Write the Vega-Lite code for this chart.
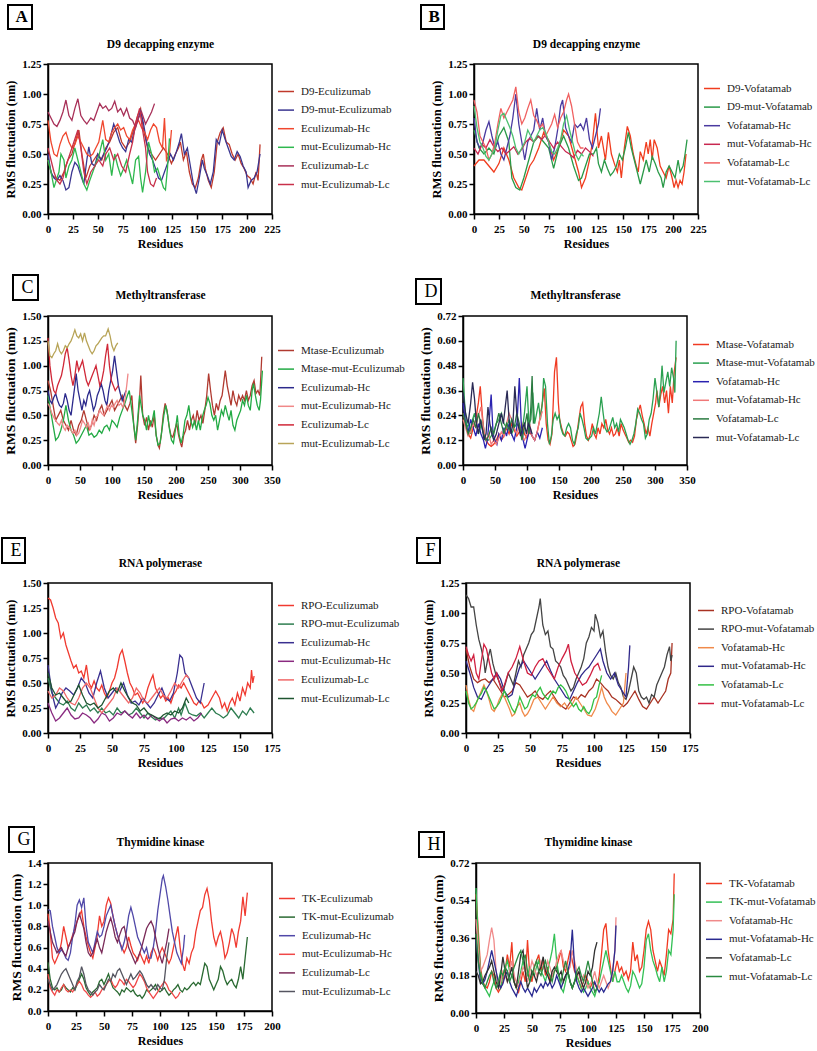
{
"$schema":"https://vega.github.io/schema/vega-lite/v6.json",
"padding":{"left":0,"top":3,"right":0,"bottom":0},
"background":"white",
"datasets":{
"names":[
{"k":"A0","n":"D9-Eculizumab"},{"k":"A1","n":"D9-mut-Eculizumab"},{"k":"A2","n":"Eculizumab-Hc"},{"k":"A3","n":"mut-Eculizumab-Hc"},{"k":"A4","n":"Eculizumab-Lc"},{"k":"A5","n":"mut-Eculizumab-Lc"},
{"k":"B0","n":"D9-Vofatamab"},{"k":"B1","n":"D9-mut-Vofatamab"},{"k":"B2","n":"Vofatamab-Hc"},{"k":"B3","n":"mut-Vofatamab-Hc"},{"k":"B4","n":"Vofatamab-Lc"},{"k":"B5","n":"mut-Vofatamab-Lc"},
{"k":"C0","n":"Mtase-Eculizumab"},{"k":"C1","n":"Mtase-mut-Eculizumab"},{"k":"C2","n":"Eculizumab-Hc"},{"k":"C3","n":"mut-Eculizumab-Hc"},{"k":"C4","n":"Eculizumab-Lc"},{"k":"C5","n":"mut-Eculizumab-Lc"},
{"k":"D0","n":"Mtase-Vofatamab"},{"k":"D1","n":"Mtase-mut-Vofatamab"},{"k":"D2","n":"Vofatamab-Hc"},{"k":"D3","n":"mut-Vofatamab-Hc"},{"k":"D4","n":"Vofatamab-Lc"},{"k":"D5","n":"mut-Vofatamab-Lc"},
{"k":"E0","n":"RPO-Eculizumab"},{"k":"E1","n":"RPO-mut-Eculizumab"},{"k":"E2","n":"Eculizumab-Hc"},{"k":"E3","n":"mut-Eculizumab-Hc"},{"k":"E4","n":"Eculizumab-Lc"},{"k":"E5","n":"mut-Eculizumab-Lc"},
{"k":"F0","n":"RPO-Vofatamab"},{"k":"F1","n":"RPO-mut-Vofatamab"},{"k":"F2","n":"Vofatamab-Hc"},{"k":"F3","n":"mut-Vofatamab-Hc"},{"k":"F4","n":"Vofatamab-Lc"},{"k":"F5","n":"mut-Vofatamab-Lc"},
{"k":"G0","n":"TK-Eculizumab"},{"k":"G1","n":"TK-mut-Eculizumab"},{"k":"G2","n":"Eculizumab-Hc"},{"k":"G3","n":"mut-Eculizumab-Hc"},{"k":"G4","n":"Eculizumab-Lc"},{"k":"G5","n":"mut-Eculizumab-Lc"},
{"k":"H0","n":"TK-Vofatamab"},{"k":"H1","n":"TK-mut-Vofatamab"},{"k":"H2","n":"Vofatamab-Hc"},{"k":"H3","n":"mut-Vofatamab-Hc"},{"k":"H4","n":"Vofatamab-Lc"},{"k":"H5","n":"mut-Vofatamab-Lc"}
],
"rms":[
{"k":"A0","x":0,"y":0.45},{"k":"A0","x":4,"y":0.32},{"k":"A0","x":8,"y":0.3},{"k":"A0","x":12,"y":0.28},{"k":"A0","x":16,"y":0.35},{"k":"A0","x":20,"y":0.45},{"k":"A0","x":24,"y":0.5},{"k":"A0","x":28,"y":0.62},{"k":"A0","x":31,"y":0.7},{"k":"A0","x":34,"y":0.5},{"k":"A0","x":38,"y":0.3},{"k":"A0","x":42,"y":0.4},{"k":"A0","x":46,"y":0.45},{"k":"A0","x":50,"y":0.5},{"k":"A0","x":54,"y":0.45},{"k":"A0","x":58,"y":0.55},{"k":"A0","x":62,"y":0.6},{"k":"A0","x":66,"y":0.68},{"k":"A0","x":70,"y":0.72},{"k":"A0","x":74,"y":0.6},{"k":"A0","x":78,"y":0.55},{"k":"A0","x":82,"y":0.6},{"k":"A0","x":86,"y":0.7},{"k":"A0","x":90,"y":0.82},{"k":"A0","x":93,"y":0.88},{"k":"A0","x":96,"y":0.7},{"k":"A0","x":100,"y":0.55},{"k":"A0","x":104,"y":0.5},{"k":"A0","x":108,"y":0.45},{"k":"A0","x":112,"y":0.5},{"k":"A0","x":116,"y":0.55},{"k":"A0","x":120,"y":0.5},{"k":"A0","x":124,"y":0.42},{"k":"A0","x":128,"y":0.5},{"k":"A0","x":131,"y":0.55},{"k":"A0","x":133,"y":0.6},{"k":"A0","x":136,"y":0.45},{"k":"A0","x":139,"y":0.52},{"k":"A0","x":142,"y":0.35},{"k":"A0","x":145,"y":0.25},{"k":"A0","x":148,"y":0.22},{"k":"A0","x":151,"y":0.3},{"k":"A0","x":154,"y":0.45},{"k":"A0","x":156,"y":0.5},{"k":"A0","x":158,"y":0.38},{"k":"A0","x":161,"y":0.28},{"k":"A0","x":164,"y":0.22},{"k":"A0","x":167,"y":0.35},{"k":"A0","x":170,"y":0.6},{"k":"A0","x":173,"y":0.68},{"k":"A0","x":176,"y":0.72},{"k":"A0","x":179,"y":0.6},{"k":"A0","x":182,"y":0.58},{"k":"A0","x":185,"y":0.5},{"k":"A0","x":188,"y":0.45},{"k":"A0","x":191,"y":0.5},{"k":"A0","x":194,"y":0.42},{"k":"A0","x":197,"y":0.38},{"k":"A0","x":200,"y":0.32},{"k":"A0","x":203,"y":0.3},{"k":"A0","x":206,"y":0.25},{"k":"A0","x":209,"y":0.35},{"k":"A0","x":211,"y":0.28},{"k":"A0","x":213,"y":0.58},
{"k":"A1","x":0,"y":0.5},{"k":"A1","x":3,"y":0.35},{"k":"A1","x":6,"y":0.3},{"k":"A1","x":9,"y":0.28},{"k":"A1","x":12,"y":0.32},{"k":"A1","x":15,"y":0.28},{"k":"A1","x":18,"y":0.2},{"k":"A1","x":21,"y":0.22},{"k":"A1","x":24,"y":0.35},{"k":"A1","x":27,"y":0.43},{"k":"A1","x":30,"y":0.4},{"k":"A1","x":33,"y":0.32},{"k":"A1","x":36,"y":0.25},{"k":"A1","x":39,"y":0.45},{"k":"A1","x":41,"y":0.56},{"k":"A1","x":44,"y":0.42},{"k":"A1","x":47,"y":0.4},{"k":"A1","x":50,"y":0.5},{"k":"A1","x":53,"y":0.45},{"k":"A1","x":56,"y":0.5},{"k":"A1","x":59,"y":0.55},{"k":"A1","x":62,"y":0.62},{"k":"A1","x":66,"y":0.75},{"k":"A1","x":69,"y":0.68},{"k":"A1","x":72,"y":0.6},{"k":"A1","x":75,"y":0.55},{"k":"A1","x":78,"y":0.52},{"k":"A1","x":81,"y":0.62},{"k":"A1","x":84,"y":0.6},{"k":"A1","x":87,"y":0.7},{"k":"A1","x":90,"y":0.78},{"k":"A1","x":93,"y":0.86},{"k":"A1","x":96,"y":0.75},{"k":"A1","x":99,"y":0.6},{"k":"A1","x":102,"y":0.5},{"k":"A1","x":105,"y":0.45},{"k":"A1","x":108,"y":0.38},{"k":"A1","x":111,"y":0.3},{"k":"A1","x":114,"y":0.28},{"k":"A1","x":117,"y":0.35},{"k":"A1","x":120,"y":0.42},{"k":"A1","x":123,"y":0.5},{"k":"A1","x":126,"y":0.45},{"k":"A1","x":129,"y":0.52},{"k":"A1","x":132,"y":0.6},{"k":"A1","x":134,"y":0.67},{"k":"A1","x":137,"y":0.5},{"k":"A1","x":140,"y":0.55},{"k":"A1","x":143,"y":0.4},{"k":"A1","x":146,"y":0.25},{"k":"A1","x":149,"y":0.17},{"k":"A1","x":152,"y":0.3},{"k":"A1","x":155,"y":0.45},{"k":"A1","x":157,"y":0.38},{"k":"A1","x":160,"y":0.32},{"k":"A1","x":163,"y":0.25},{"k":"A1","x":166,"y":0.35},{"k":"A1","x":169,"y":0.62},{"k":"A1","x":172,"y":0.58},{"k":"A1","x":175,"y":0.7},{"k":"A1","x":178,"y":0.62},{"k":"A1","x":181,"y":0.55},{"k":"A1","x":184,"y":0.48},{"k":"A1","x":187,"y":0.45},{"k":"A1","x":190,"y":0.52},{"k":"A1","x":193,"y":0.48},{"k":"A1","x":196,"y":0.4},{"k":"A1","x":199,"y":0.35},{"k":"A1","x":201,"y":0.22},{"k":"A1","x":204,"y":0.28},{"k":"A1","x":207,"y":0.3},{"k":"A1","x":210,"y":0.35},{"k":"A1","x":213,"y":0.5},
{"k":"A2","x":0,"y":0.78},{"k":"A2","x":3,"y":0.6},{"k":"A2","x":6,"y":0.5},{"k":"A2","x":9,"y":0.48},{"k":"A2","x":12,"y":0.58},{"k":"A2","x":15,"y":0.65},{"k":"A2","x":18,"y":0.68},{"k":"A2","x":21,"y":0.6},{"k":"A2","x":24,"y":0.55},{"k":"A2","x":27,"y":0.58},{"k":"A2","x":30,"y":0.65},{"k":"A2","x":33,"y":0.6},{"k":"A2","x":36,"y":0.55},{"k":"A2","x":39,"y":0.5},{"k":"A2","x":42,"y":0.48},{"k":"A2","x":45,"y":0.5},{"k":"A2","x":48,"y":0.55},{"k":"A2","x":51,"y":0.6},{"k":"A2","x":55,"y":0.78},{"k":"A2","x":58,"y":0.62},{"k":"A2","x":61,"y":0.6},{"k":"A2","x":64,"y":0.68},{"k":"A2","x":67,"y":0.72},{"k":"A2","x":70,"y":0.75},{"k":"A2","x":73,"y":0.7},{"k":"A2","x":76,"y":0.72},{"k":"A2","x":79,"y":0.65},{"k":"A2","x":82,"y":0.62},{"k":"A2","x":85,"y":0.7},{"k":"A2","x":88,"y":0.75},{"k":"A2","x":91,"y":0.78},{"k":"A2","x":94,"y":0.72},{"k":"A2","x":97,"y":0.68},{"k":"A2","x":100,"y":0.62},{"k":"A2","x":103,"y":0.7},{"k":"A2","x":106,"y":0.75},{"k":"A2","x":109,"y":0.72},{"k":"A2","x":112,"y":0.6},{"k":"A2","x":115,"y":0.55},{"k":"A2","x":117,"y":0.8},{"k":"A2","x":119,"y":0.45},{"k":"A2","x":122,"y":0.5},{"k":"A2","x":124,"y":0.7},
{"k":"A3","x":0,"y":0.45},{"k":"A3","x":3,"y":0.35},{"k":"A3","x":6,"y":0.22},{"k":"A3","x":9,"y":0.3},{"k":"A3","x":11,"y":0.35},{"k":"A3","x":13,"y":0.5},{"k":"A3","x":16,"y":0.45},{"k":"A3","x":18,"y":0.3},{"k":"A3","x":21,"y":0.4},{"k":"A3","x":24,"y":0.45},{"k":"A3","x":27,"y":0.55},{"k":"A3","x":30,"y":0.45},{"k":"A3","x":33,"y":0.35},{"k":"A3","x":36,"y":0.25},{"k":"A3","x":39,"y":0.2},{"k":"A3","x":42,"y":0.28},{"k":"A3","x":45,"y":0.35},{"k":"A3","x":48,"y":0.42},{"k":"A3","x":51,"y":0.48},{"k":"A3","x":55,"y":0.62},{"k":"A3","x":58,"y":0.45},{"k":"A3","x":61,"y":0.5},{"k":"A3","x":64,"y":0.32},{"k":"A3","x":67,"y":0.5},{"k":"A3","x":70,"y":0.4},{"k":"A3","x":73,"y":0.32},{"k":"A3","x":76,"y":0.38},{"k":"A3","x":79,"y":0.45},{"k":"A3","x":82,"y":0.35},{"k":"A3","x":85,"y":0.25},{"k":"A3","x":88,"y":0.45},{"k":"A3","x":91,"y":0.48},{"k":"A3","x":93,"y":0.3},{"k":"A3","x":95,"y":0.18},{"k":"A3","x":98,"y":0.35},{"k":"A3","x":101,"y":0.6},{"k":"A3","x":104,"y":0.5},{"k":"A3","x":107,"y":0.35},{"k":"A3","x":110,"y":0.38},{"k":"A3","x":113,"y":0.3},{"k":"A3","x":116,"y":0.22},{"k":"A3","x":118,"y":0.2},{"k":"A3","x":120,"y":0.38},{"k":"A3","x":122,"y":0.63},
{"k":"A4","x":0,"y":0.85},{"k":"A4","x":3,"y":0.8},{"k":"A4","x":6,"y":0.75},{"k":"A4","x":9,"y":0.73},{"k":"A4","x":12,"y":0.78},{"k":"A4","x":15,"y":0.85},{"k":"A4","x":18,"y":0.95},{"k":"A4","x":21,"y":0.82},{"k":"A4","x":24,"y":0.78},{"k":"A4","x":27,"y":0.88},{"k":"A4","x":30,"y":0.96},{"k":"A4","x":33,"y":0.82},{"k":"A4","x":36,"y":0.78},{"k":"A4","x":39,"y":0.75},{"k":"A4","x":43,"y":0.8},{"k":"A4","x":46,"y":0.78},{"k":"A4","x":49,"y":0.85},{"k":"A4","x":52,"y":0.92},{"k":"A4","x":55,"y":0.88},{"k":"A4","x":58,"y":0.9},{"k":"A4","x":61,"y":0.86},{"k":"A4","x":64,"y":0.88},{"k":"A4","x":67,"y":0.94},{"k":"A4","x":70,"y":0.85},{"k":"A4","x":73,"y":0.88},{"k":"A4","x":76,"y":0.82},{"k":"A4","x":79,"y":0.88},{"k":"A4","x":82,"y":0.8},{"k":"A4","x":85,"y":0.78},{"k":"A4","x":88,"y":0.72},{"k":"A4","x":91,"y":0.8},{"k":"A4","x":94,"y":0.85},{"k":"A4","x":98,"y":0.75},{"k":"A4","x":101,"y":0.8},{"k":"A4","x":104,"y":0.85},{"k":"A4","x":107,"y":0.92},
{"k":"A5","x":0,"y":0.55},{"k":"A5","x":3,"y":0.45},{"k":"A5","x":6,"y":0.35},{"k":"A5","x":9,"y":0.28},{"k":"A5","x":12,"y":0.25},{"k":"A5","x":15,"y":0.3},{"k":"A5","x":18,"y":0.4},{"k":"A5","x":22,"y":0.5},{"k":"A5","x":26,"y":0.6},{"k":"A5","x":30,"y":0.7},{"k":"A5","x":33,"y":0.55},{"k":"A5","x":36,"y":0.35},{"k":"A5","x":39,"y":0.25},{"k":"A5","x":43,"y":0.35},{"k":"A5","x":47,"y":0.4},{"k":"A5","x":51,"y":0.45},{"k":"A5","x":55,"y":0.4},{"k":"A5","x":58,"y":0.5},{"k":"A5","x":62,"y":0.55},{"k":"A5","x":66,"y":0.45},{"k":"A5","x":70,"y":0.5},{"k":"A5","x":74,"y":0.4},{"k":"A5","x":78,"y":0.35},{"k":"A5","x":82,"y":0.5},{"k":"A5","x":85,"y":0.6},{"k":"A5","x":88,"y":0.75},{"k":"A5","x":92,"y":0.88},{"k":"A5","x":95,"y":0.7},{"k":"A5","x":98,"y":0.55},{"k":"A5","x":100,"y":0.35},{"k":"A5","x":103,"y":0.25},{"k":"A5","x":106,"y":0.23},{"k":"A5","x":109,"y":0.3},
{"k":"B0","x":0,"y":0.4},{"k":"B0","x":5,"y":0.45},{"k":"B0","x":10,"y":0.45},{"k":"B0","x":15,"y":0.4},{"k":"B0","x":20,"y":0.35},{"k":"B0","x":25,"y":0.42},{"k":"B0","x":30,"y":0.55},{"k":"B0","x":35,"y":0.45},{"k":"B0","x":40,"y":0.3},{"k":"B0","x":45,"y":0.22},{"k":"B0","x":48,"y":0.2},{"k":"B0","x":52,"y":0.3},{"k":"B0","x":56,"y":0.4},{"k":"B0","x":60,"y":0.45},{"k":"B0","x":65,"y":0.55},{"k":"B0","x":70,"y":0.68},{"k":"B0","x":75,"y":0.6},{"k":"B0","x":80,"y":0.45},{"k":"B0","x":85,"y":0.55},{"k":"B0","x":90,"y":0.7},{"k":"B0","x":95,"y":0.65},{"k":"B0","x":100,"y":0.5},{"k":"B0","x":105,"y":0.35},{"k":"B0","x":108,"y":0.22},{"k":"B0","x":112,"y":0.3},{"k":"B0","x":116,"y":0.45},{"k":"B0","x":119,"y":0.6},{"k":"B0","x":122,"y":0.84},{"k":"B0","x":125,"y":0.55},{"k":"B0","x":128,"y":0.65},{"k":"B0","x":132,"y":0.45},{"k":"B0","x":135,"y":0.68},{"k":"B0","x":138,"y":0.5},{"k":"B0","x":141,"y":0.42},{"k":"B0","x":144,"y":0.35},{"k":"B0","x":146,"y":0.45},{"k":"B0","x":148,"y":0.3},{"k":"B0","x":151,"y":0.55},{"k":"B0","x":154,"y":0.73},{"k":"B0","x":157,"y":0.65},{"k":"B0","x":160,"y":0.5},{"k":"B0","x":163,"y":0.4},{"k":"B0","x":165,"y":0.35},{"k":"B0","x":167,"y":0.52},{"k":"B0","x":170,"y":0.45},{"k":"B0","x":173,"y":0.6},{"k":"B0","x":175,"y":0.5},{"k":"B0","x":177,"y":0.62},{"k":"B0","x":179,"y":0.45},{"k":"B0","x":181,"y":0.62},{"k":"B0","x":184,"y":0.55},{"k":"B0","x":187,"y":0.4},{"k":"B0","x":190,"y":0.35},{"k":"B0","x":193,"y":0.3},{"k":"B0","x":196,"y":0.4},{"k":"B0","x":199,"y":0.3},{"k":"B0","x":201,"y":0.22},{"k":"B0","x":203,"y":0.28},{"k":"B0","x":205,"y":0.22},{"k":"B0","x":207,"y":0.28},{"k":"B0","x":209,"y":0.25},{"k":"B0","x":211,"y":0.35},{"k":"B0","x":213,"y":0.5},
{"k":"B1","x":0,"y":0.7},{"k":"B1","x":5,"y":0.55},{"k":"B1","x":10,"y":0.5},{"k":"B1","x":15,"y":0.55},{"k":"B1","x":20,"y":0.5},{"k":"B1","x":25,"y":0.65},{"k":"B1","x":30,"y":0.72},{"k":"B1","x":35,"y":0.6},{"k":"B1","x":38,"y":0.3},{"k":"B1","x":42,"y":0.22},{"k":"B1","x":46,"y":0.2},{"k":"B1","x":50,"y":0.3},{"k":"B1","x":55,"y":0.45},{"k":"B1","x":60,"y":0.6},{"k":"B1","x":65,"y":0.65},{"k":"B1","x":70,"y":0.6},{"k":"B1","x":75,"y":0.55},{"k":"B1","x":80,"y":0.38},{"k":"B1","x":85,"y":0.55},{"k":"B1","x":90,"y":0.65},{"k":"B1","x":95,"y":0.55},{"k":"B1","x":100,"y":0.4},{"k":"B1","x":105,"y":0.28},{"k":"B1","x":108,"y":0.3},{"k":"B1","x":112,"y":0.4},{"k":"B1","x":116,"y":0.5},{"k":"B1","x":120,"y":0.5},{"k":"B1","x":123,"y":0.55},{"k":"B1","x":125,"y":0.42},{"k":"B1","x":128,"y":0.35},{"k":"B1","x":131,"y":0.45},{"k":"B1","x":134,"y":0.38},{"k":"B1","x":137,"y":0.32},{"k":"B1","x":140,"y":0.35},{"k":"B1","x":143,"y":0.4},{"k":"B1","x":146,"y":0.5},{"k":"B1","x":149,"y":0.45},{"k":"B1","x":152,"y":0.55},{"k":"B1","x":155,"y":0.68},{"k":"B1","x":158,"y":0.55},{"k":"B1","x":161,"y":0.45},{"k":"B1","x":164,"y":0.35},{"k":"B1","x":167,"y":0.25},{"k":"B1","x":170,"y":0.35},{"k":"B1","x":173,"y":0.45},{"k":"B1","x":176,"y":0.35},{"k":"B1","x":179,"y":0.48},{"k":"B1","x":182,"y":0.42},{"k":"B1","x":185,"y":0.35},{"k":"B1","x":188,"y":0.3},{"k":"B1","x":190,"y":0.22},{"k":"B1","x":193,"y":0.35},{"k":"B1","x":196,"y":0.4},{"k":"B1","x":199,"y":0.35},{"k":"B1","x":202,"y":0.3},{"k":"B1","x":205,"y":0.45},{"k":"B1","x":207,"y":0.35},{"k":"B1","x":210,"y":0.4},{"k":"B1","x":212,"y":0.5},{"k":"B1","x":214,"y":0.62},
{"k":"B2","x":0,"y":0.8},{"k":"B2","x":3,"y":0.6},{"k":"B2","x":6,"y":0.55},{"k":"B2","x":9,"y":0.6},{"k":"B2","x":12,"y":0.7},{"k":"B2","x":15,"y":0.77},{"k":"B2","x":18,"y":0.65},{"k":"B2","x":21,"y":0.55},{"k":"B2","x":24,"y":0.6},{"k":"B2","x":27,"y":0.5},{"k":"B2","x":30,"y":0.45},{"k":"B2","x":33,"y":0.55},{"k":"B2","x":36,"y":0.65},{"k":"B2","x":39,"y":0.8},{"k":"B2","x":42,"y":1.0},{"k":"B2","x":45,"y":0.75},{"k":"B2","x":48,"y":0.6},{"k":"B2","x":51,"y":0.45},{"k":"B2","x":54,"y":0.6},{"k":"B2","x":57,"y":0.65},{"k":"B2","x":60,"y":0.7},{"k":"B2","x":63,"y":0.88},{"k":"B2","x":66,"y":0.7},{"k":"B2","x":69,"y":0.8},{"k":"B2","x":72,"y":0.65},{"k":"B2","x":75,"y":0.6},{"k":"B2","x":78,"y":0.45},{"k":"B2","x":81,"y":0.55},{"k":"B2","x":84,"y":0.7},{"k":"B2","x":87,"y":0.9},{"k":"B2","x":89,"y":0.95},{"k":"B2","x":92,"y":0.72},{"k":"B2","x":95,"y":0.65},{"k":"B2","x":98,"y":0.6},{"k":"B2","x":101,"y":0.75},{"k":"B2","x":104,"y":0.72},{"k":"B2","x":107,"y":0.75},{"k":"B2","x":110,"y":0.7},{"k":"B2","x":113,"y":0.8},{"k":"B2","x":116,"y":0.62},{"k":"B2","x":119,"y":0.55},{"k":"B2","x":122,"y":0.65},{"k":"B2","x":125,"y":0.75},{"k":"B2","x":127,"y":0.88},
{"k":"B3","x":0,"y":0.55},{"k":"B3","x":4,"y":0.5},{"k":"B3","x":8,"y":0.58},{"k":"B3","x":12,"y":0.55},{"k":"B3","x":16,"y":0.62},{"k":"B3","x":20,"y":0.56},{"k":"B3","x":24,"y":0.52},{"k":"B3","x":28,"y":0.55},{"k":"B3","x":32,"y":0.5},{"k":"B3","x":36,"y":0.53},{"k":"B3","x":40,"y":0.56},{"k":"B3","x":44,"y":0.5},{"k":"B3","x":48,"y":0.54},{"k":"B3","x":52,"y":0.6},{"k":"B3","x":56,"y":0.63},{"k":"B3","x":60,"y":0.6},{"k":"B3","x":64,"y":0.65},{"k":"B3","x":68,"y":0.62},{"k":"B3","x":72,"y":0.66},{"k":"B3","x":76,"y":0.6},{"k":"B3","x":80,"y":0.55},{"k":"B3","x":84,"y":0.6},{"k":"B3","x":88,"y":0.56},{"k":"B3","x":92,"y":0.52},{"k":"B3","x":96,"y":0.5},{"k":"B3","x":100,"y":0.47},{"k":"B3","x":104,"y":0.53},{"k":"B3","x":108,"y":0.5},{"k":"B3","x":112,"y":0.55},{"k":"B3","x":116,"y":0.52},{"k":"B3","x":120,"y":0.48},
{"k":"B4","x":0,"y":0.95},{"k":"B4","x":3,"y":0.85},{"k":"B4","x":6,"y":0.65},{"k":"B4","x":9,"y":0.6},{"k":"B4","x":12,"y":0.55},{"k":"B4","x":15,"y":0.45},{"k":"B4","x":18,"y":0.5},{"k":"B4","x":21,"y":0.6},{"k":"B4","x":24,"y":0.75},{"k":"B4","x":27,"y":0.88},{"k":"B4","x":30,"y":0.8},{"k":"B4","x":33,"y":0.85},{"k":"B4","x":36,"y":0.9},{"k":"B4","x":39,"y":0.95},{"k":"B4","x":42,"y":1.06},{"k":"B4","x":45,"y":0.85},{"k":"B4","x":48,"y":0.75},{"k":"B4","x":51,"y":0.8},{"k":"B4","x":54,"y":0.88},{"k":"B4","x":57,"y":0.95},{"k":"B4","x":60,"y":0.82},{"k":"B4","x":63,"y":0.78},{"k":"B4","x":66,"y":0.72},{"k":"B4","x":69,"y":0.75},{"k":"B4","x":72,"y":0.65},{"k":"B4","x":75,"y":0.7},{"k":"B4","x":78,"y":0.75},{"k":"B4","x":81,"y":0.83},{"k":"B4","x":84,"y":0.72},{"k":"B4","x":87,"y":0.8},{"k":"B4","x":90,"y":0.85},{"k":"B4","x":93,"y":0.95},{"k":"B4","x":95,"y":1.0},{"k":"B4","x":98,"y":0.9},{"k":"B4","x":101,"y":0.75},{"k":"B4","x":104,"y":0.6},{"k":"B4","x":107,"y":0.55},{"k":"B4","x":110,"y":0.55},
{"k":"B5","x":0,"y":0.9},{"k":"B5","x":3,"y":0.72},{"k":"B5","x":6,"y":0.6},{"k":"B5","x":9,"y":0.55},{"k":"B5","x":12,"y":0.48},{"k":"B5","x":15,"y":0.45},{"k":"B5","x":18,"y":0.5},{"k":"B5","x":21,"y":0.55},{"k":"B5","x":24,"y":0.7},{"k":"B5","x":27,"y":0.82},{"k":"B5","x":30,"y":0.84},{"k":"B5","x":33,"y":0.78},{"k":"B5","x":36,"y":0.72},{"k":"B5","x":39,"y":0.65},{"k":"B5","x":42,"y":0.55},{"k":"B5","x":45,"y":0.5},{"k":"B5","x":48,"y":0.55},{"k":"B5","x":51,"y":0.6},{"k":"B5","x":54,"y":0.7},{"k":"B5","x":57,"y":0.65},{"k":"B5","x":60,"y":0.6},{"k":"B5","x":63,"y":0.65},{"k":"B5","x":66,"y":0.7},{"k":"B5","x":69,"y":0.72},{"k":"B5","x":72,"y":0.68},{"k":"B5","x":75,"y":0.6},{"k":"B5","x":78,"y":0.52},{"k":"B5","x":81,"y":0.5},{"k":"B5","x":84,"y":0.55},{"k":"B5","x":87,"y":0.62},{"k":"B5","x":90,"y":0.75},{"k":"B5","x":93,"y":0.82},{"k":"B5","x":96,"y":0.7},{"k":"B5","x":99,"y":0.6},{"k":"B5","x":102,"y":0.5},{"k":"B5","x":105,"y":0.45},{"k":"B5","x":108,"y":0.5},{"k":"B5","x":110,"y":0.48},
{"k":"C0","x":0,"y":0.85},{"k":"C0","x":4,"y":0.75},{"k":"C0","x":8,"y":0.6},{"k":"C0","x":12,"y":0.45},{"k":"C0","x":16,"y":0.5},{"k":"C0","x":20,"y":0.55},{"k":"C0","x":24,"y":0.45},{"k":"C0","x":28,"y":0.4},{"k":"C0","x":32,"y":0.35},{"k":"C0","x":36,"y":0.45},{"k":"C0","x":40,"y":0.35},{"k":"C0","x":44,"y":0.3},{"k":"C0","x":48,"y":0.4},{"k":"C0","x":52,"y":0.45},{"k":"C0","x":56,"y":0.55},{"k":"C0","x":60,"y":0.45},{"k":"C0","x":64,"y":0.35},{"k":"C0","x":68,"y":0.4},{"k":"C0","x":72,"y":0.5},{"k":"C0","x":76,"y":0.45},{"k":"C0","x":80,"y":0.55},{"k":"C0","x":84,"y":0.6},{"k":"C0","x":88,"y":0.5},{"k":"C0","x":92,"y":0.55},{"k":"C0","x":96,"y":0.6},{"k":"C0","x":100,"y":0.65},{"k":"C0","x":104,"y":0.55},{"k":"C0","x":108,"y":0.6},{"k":"C0","x":112,"y":0.65},{"k":"C0","x":116,"y":0.7},{"k":"C0","x":120,"y":0.6},{"k":"C0","x":124,"y":0.55},{"k":"C0","x":128,"y":0.62},{"k":"C0","x":131,"y":0.7},{"k":"C0","x":134,"y":0.4},{"k":"C0","x":137,"y":0.22},{"k":"C0","x":140,"y":0.4},{"k":"C0","x":143,"y":0.65},{"k":"C0","x":145,"y":0.9},{"k":"C0","x":148,"y":0.5},{"k":"C0","x":151,"y":0.4},{"k":"C0","x":154,"y":0.48},{"k":"C0","x":157,"y":0.35},{"k":"C0","x":160,"y":0.45},{"k":"C0","x":163,"y":0.38},{"k":"C0","x":166,"y":0.5},{"k":"C0","x":169,"y":0.3},{"k":"C0","x":172,"y":0.2},{"k":"C0","x":174,"y":0.17},{"k":"C0","x":177,"y":0.3},{"k":"C0","x":180,"y":0.5},{"k":"C0","x":183,"y":0.62},{"k":"C0","x":186,"y":0.55},{"k":"C0","x":189,"y":0.4},{"k":"C0","x":192,"y":0.3},{"k":"C0","x":195,"y":0.28},{"k":"C0","x":198,"y":0.35},{"k":"C0","x":201,"y":0.42},{"k":"C0","x":204,"y":0.3},{"k":"C0","x":207,"y":0.22},{"k":"C0","x":209,"y":0.18},{"k":"C0","x":212,"y":0.3},{"k":"C0","x":215,"y":0.35},{"k":"C0","x":218,"y":0.45},{"k":"C0","x":221,"y":0.35},{"k":"C0","x":224,"y":0.45},{"k":"C0","x":227,"y":0.5},{"k":"C0","x":230,"y":0.4},{"k":"C0","x":233,"y":0.55},{"k":"C0","x":236,"y":0.45},{"k":"C0","x":239,"y":0.5},{"k":"C0","x":242,"y":0.42},{"k":"C0","x":245,"y":0.55},{"k":"C0","x":248,"y":0.7},{"k":"C0","x":251,"y":0.92},{"k":"C0","x":254,"y":0.75},{"k":"C0","x":257,"y":0.6},{"k":"C0","x":260,"y":0.5},{"k":"C0","x":263,"y":0.62},{"k":"C0","x":266,"y":0.55},{"k":"C0","x":269,"y":0.65},{"k":"C0","x":272,"y":0.7},{"k":"C0","x":275,"y":0.85},{"k":"C0","x":277,"y":0.95},{"k":"C0","x":280,"y":0.8},{"k":"C0","x":283,"y":0.7},{"k":"C0","x":286,"y":0.6},{"k":"C0","x":289,"y":0.75},{"k":"C0","x":292,"y":0.65},{"k":"C0","x":295,"y":0.6},{"k":"C0","x":298,"y":0.7},{"k":"C0","x":301,"y":0.65},{"k":"C0","x":304,"y":0.7},{"k":"C0","x":307,"y":0.65},{"k":"C0","x":310,"y":0.75},{"k":"C0","x":313,"y":0.65},{"k":"C0","x":316,"y":0.7},{"k":"C0","x":319,"y":0.8},{"k":"C0","x":322,"y":0.85},{"k":"C0","x":325,"y":0.72},{"k":"C0","x":328,"y":0.75},{"k":"C0","x":331,"y":0.7},{"k":"C0","x":334,"y":1.09},
{"k":"C1","x":0,"y":0.7},{"k":"C1","x":4,"y":0.55},{"k":"C1","x":8,"y":0.4},{"k":"C1","x":12,"y":0.25},{"k":"C1","x":16,"y":0.28},{"k":"C1","x":20,"y":0.35},{"k":"C1","x":24,"y":0.45},{"k":"C1","x":28,"y":0.6},{"k":"C1","x":32,"y":0.45},{"k":"C1","x":36,"y":0.35},{"k":"C1","x":40,"y":0.3},{"k":"C1","x":44,"y":0.22},{"k":"C1","x":48,"y":0.25},{"k":"C1","x":52,"y":0.3},{"k":"C1","x":56,"y":0.35},{"k":"C1","x":60,"y":0.4},{"k":"C1","x":64,"y":0.3},{"k":"C1","x":68,"y":0.32},{"k":"C1","x":72,"y":0.28},{"k":"C1","x":76,"y":0.3},{"k":"C1","x":80,"y":0.35},{"k":"C1","x":84,"y":0.32},{"k":"C1","x":88,"y":0.38},{"k":"C1","x":92,"y":0.4},{"k":"C1","x":96,"y":0.35},{"k":"C1","x":100,"y":0.45},{"k":"C1","x":104,"y":0.42},{"k":"C1","x":108,"y":0.38},{"k":"C1","x":112,"y":0.48},{"k":"C1","x":116,"y":0.55},{"k":"C1","x":120,"y":0.62},{"k":"C1","x":124,"y":0.7},{"k":"C1","x":127,"y":0.75},{"k":"C1","x":130,"y":0.6},{"k":"C1","x":134,"y":0.4},{"k":"C1","x":137,"y":0.25},{"k":"C1","x":140,"y":0.45},{"k":"C1","x":143,"y":0.7},{"k":"C1","x":145,"y":0.62},{"k":"C1","x":148,"y":0.5},{"k":"C1","x":151,"y":0.45},{"k":"C1","x":154,"y":0.35},{"k":"C1","x":157,"y":0.5},{"k":"C1","x":160,"y":0.4},{"k":"C1","x":163,"y":0.45},{"k":"C1","x":166,"y":0.55},{"k":"C1","x":169,"y":0.3},{"k":"C1","x":172,"y":0.2},{"k":"C1","x":175,"y":0.22},{"k":"C1","x":178,"y":0.35},{"k":"C1","x":181,"y":0.5},{"k":"C1","x":184,"y":0.6},{"k":"C1","x":187,"y":0.5},{"k":"C1","x":190,"y":0.35},{"k":"C1","x":193,"y":0.25},{"k":"C1","x":196,"y":0.22},{"k":"C1","x":199,"y":0.35},{"k":"C1","x":202,"y":0.5},{"k":"C1","x":205,"y":0.3},{"k":"C1","x":208,"y":0.22},{"k":"C1","x":211,"y":0.3},{"k":"C1","x":214,"y":0.45},{"k":"C1","x":217,"y":0.5},{"k":"C1","x":220,"y":0.6},{"k":"C1","x":223,"y":0.45},{"k":"C1","x":226,"y":0.38},{"k":"C1","x":229,"y":0.45},{"k":"C1","x":232,"y":0.35},{"k":"C1","x":235,"y":0.45},{"k":"C1","x":238,"y":0.35},{"k":"C1","x":241,"y":0.48},{"k":"C1","x":244,"y":0.55},{"k":"C1","x":247,"y":0.6},{"k":"C1","x":250,"y":0.68},{"k":"C1","x":253,"y":0.62},{"k":"C1","x":256,"y":0.5},{"k":"C1","x":259,"y":0.45},{"k":"C1","x":262,"y":0.5},{"k":"C1","x":265,"y":0.35},{"k":"C1","x":268,"y":0.45},{"k":"C1","x":271,"y":0.55},{"k":"C1","x":274,"y":0.5},{"k":"C1","x":277,"y":0.6},{"k":"C1","x":280,"y":0.52},{"k":"C1","x":283,"y":0.45},{"k":"C1","x":286,"y":0.55},{"k":"C1","x":289,"y":0.4},{"k":"C1","x":292,"y":0.35},{"k":"C1","x":295,"y":0.45},{"k":"C1","x":298,"y":0.5},{"k":"C1","x":301,"y":0.55},{"k":"C1","x":304,"y":0.65},{"k":"C1","x":307,"y":0.6},{"k":"C1","x":310,"y":0.7},{"k":"C1","x":313,"y":0.6},{"k":"C1","x":316,"y":0.55},{"k":"C1","x":319,"y":0.75},{"k":"C1","x":321,"y":0.82},{"k":"C1","x":324,"y":0.7},{"k":"C1","x":327,"y":0.6},{"k":"C1","x":330,"y":0.55},{"k":"C1","x":332,"y":0.65},{"k":"C1","x":335,"y":0.95},
{"k":"C2","x":0,"y":0.75},{"k":"C2","x":3,"y":0.65},{"k":"C2","x":6,"y":0.62},{"k":"C2","x":9,"y":0.68},{"k":"C2","x":12,"y":0.72},{"k":"C2","x":15,"y":0.65},{"k":"C2","x":18,"y":0.6},{"k":"C2","x":21,"y":0.58},{"k":"C2","x":24,"y":0.62},{"k":"C2","x":27,"y":0.72},{"k":"C2","x":30,"y":0.65},{"k":"C2","x":33,"y":0.55},{"k":"C2","x":36,"y":0.5},{"k":"C2","x":39,"y":0.65},{"k":"C2","x":42,"y":0.8},{"k":"C2","x":44,"y":0.92},{"k":"C2","x":47,"y":0.75},{"k":"C2","x":50,"y":0.65},{"k":"C2","x":53,"y":0.55},{"k":"C2","x":56,"y":0.65},{"k":"C2","x":59,"y":0.6},{"k":"C2","x":62,"y":0.7},{"k":"C2","x":65,"y":0.75},{"k":"C2","x":68,"y":0.65},{"k":"C2","x":71,"y":0.55},{"k":"C2","x":74,"y":0.6},{"k":"C2","x":77,"y":0.7},{"k":"C2","x":80,"y":0.75},{"k":"C2","x":83,"y":0.82},{"k":"C2","x":86,"y":0.75},{"k":"C2","x":89,"y":0.65},{"k":"C2","x":92,"y":0.6},{"k":"C2","x":95,"y":0.75},{"k":"C2","x":98,"y":0.85},{"k":"C2","x":101,"y":0.95},{"k":"C2","x":104,"y":1.1},{"k":"C2","x":107,"y":0.95},{"k":"C2","x":110,"y":0.8},{"k":"C2","x":113,"y":0.72},{"k":"C2","x":116,"y":0.65},{"k":"C2","x":119,"y":0.7},{"k":"C2","x":122,"y":0.75},
{"k":"C3","x":0,"y":0.62},{"k":"C3","x":3,"y":0.58},{"k":"C3","x":6,"y":0.52},{"k":"C3","x":9,"y":0.48},{"k":"C3","x":12,"y":0.45},{"k":"C3","x":15,"y":0.42},{"k":"C3","x":18,"y":0.4},{"k":"C3","x":21,"y":0.45},{"k":"C3","x":24,"y":0.38},{"k":"C3","x":27,"y":0.35},{"k":"C3","x":30,"y":0.4},{"k":"C3","x":33,"y":0.38},{"k":"C3","x":36,"y":0.35},{"k":"C3","x":39,"y":0.32},{"k":"C3","x":42,"y":0.35},{"k":"C3","x":45,"y":0.3},{"k":"C3","x":48,"y":0.32},{"k":"C3","x":51,"y":0.38},{"k":"C3","x":54,"y":0.45},{"k":"C3","x":57,"y":0.42},{"k":"C3","x":60,"y":0.38},{"k":"C3","x":63,"y":0.42},{"k":"C3","x":66,"y":0.35},{"k":"C3","x":69,"y":0.45},{"k":"C3","x":72,"y":0.4},{"k":"C3","x":75,"y":0.48},{"k":"C3","x":78,"y":0.5},{"k":"C3","x":81,"y":0.55},{"k":"C3","x":84,"y":0.52},{"k":"C3","x":87,"y":0.5},{"k":"C3","x":90,"y":0.55},{"k":"C3","x":93,"y":0.6},{"k":"C3","x":96,"y":0.55},{"k":"C3","x":99,"y":0.6},{"k":"C3","x":102,"y":0.58},{"k":"C3","x":105,"y":0.62},{"k":"C3","x":108,"y":0.65},{"k":"C3","x":111,"y":0.6},{"k":"C3","x":114,"y":0.62},{"k":"C3","x":117,"y":0.58},{"k":"C3","x":120,"y":0.65},{"k":"C3","x":123,"y":0.8},{"k":"C3","x":125,"y":0.92},
{"k":"C4","x":0,"y":1.28},{"k":"C4","x":3,"y":1.0},{"k":"C4","x":6,"y":0.85},{"k":"C4","x":9,"y":0.75},{"k":"C4","x":12,"y":0.72},{"k":"C4","x":15,"y":0.8},{"k":"C4","x":18,"y":0.85},{"k":"C4","x":21,"y":0.9},{"k":"C4","x":24,"y":1.0},{"k":"C4","x":27,"y":1.12},{"k":"C4","x":30,"y":1.18},{"k":"C4","x":33,"y":1.05},{"k":"C4","x":36,"y":0.9},{"k":"C4","x":39,"y":0.8},{"k":"C4","x":42,"y":0.9},{"k":"C4","x":45,"y":1.05},{"k":"C4","x":48,"y":0.95},{"k":"C4","x":51,"y":1.0},{"k":"C4","x":54,"y":1.05},{"k":"C4","x":57,"y":0.95},{"k":"C4","x":60,"y":0.85},{"k":"C4","x":63,"y":0.8},{"k":"C4","x":66,"y":0.85},{"k":"C4","x":69,"y":0.9},{"k":"C4","x":72,"y":0.95},{"k":"C4","x":75,"y":1.0},{"k":"C4","x":78,"y":0.9},{"k":"C4","x":81,"y":0.8},{"k":"C4","x":84,"y":0.85},{"k":"C4","x":87,"y":0.95},{"k":"C4","x":90,"y":1.1},{"k":"C4","x":93,"y":1.22},{"k":"C4","x":96,"y":1.0},{"k":"C4","x":99,"y":0.85},{"k":"C4","x":102,"y":0.8},{"k":"C4","x":105,"y":0.75},{"k":"C4","x":108,"y":0.78},{"k":"C4","x":110,"y":0.8},
{"k":"C5","x":0,"y":1.25},{"k":"C5","x":3,"y":1.1},{"k":"C5","x":6,"y":1.08},{"k":"C5","x":9,"y":1.12},{"k":"C5","x":12,"y":1.15},{"k":"C5","x":15,"y":1.22},{"k":"C5","x":18,"y":1.15},{"k":"C5","x":21,"y":1.12},{"k":"C5","x":24,"y":1.15},{"k":"C5","x":27,"y":1.2},{"k":"C5","x":30,"y":1.18},{"k":"C5","x":33,"y":1.22},{"k":"C5","x":36,"y":1.25},{"k":"C5","x":39,"y":1.3},{"k":"C5","x":42,"y":1.36},{"k":"C5","x":45,"y":1.3},{"k":"C5","x":48,"y":1.28},{"k":"C5","x":51,"y":1.32},{"k":"C5","x":54,"y":1.25},{"k":"C5","x":57,"y":1.33},{"k":"C5","x":60,"y":1.25},{"k":"C5","x":63,"y":1.2},{"k":"C5","x":66,"y":1.15},{"k":"C5","x":69,"y":1.12},{"k":"C5","x":72,"y":1.15},{"k":"C5","x":75,"y":1.2},{"k":"C5","x":78,"y":1.22},{"k":"C5","x":81,"y":1.25},{"k":"C5","x":84,"y":1.28},{"k":"C5","x":87,"y":1.3},{"k":"C5","x":90,"y":1.3},{"k":"C5","x":94,"y":1.37},{"k":"C5","x":97,"y":1.3},{"k":"C5","x":100,"y":1.2},{"k":"C5","x":103,"y":1.15},{"k":"C5","x":106,"y":1.2},{"k":"C5","x":109,"y":1.23},
{"k":"D0","x":0,"y":0.25},{"k":"D0","x":4,"y":0.2},{"k":"D0","x":8,"y":0.15},{"k":"D0","x":12,"y":0.13},{"k":"D0","x":16,"y":0.18},{"k":"D0","x":20,"y":0.22},{"k":"D0","x":24,"y":0.3},{"k":"D0","x":27,"y":0.38},{"k":"D0","x":30,"y":0.25},{"k":"D0","x":33,"y":0.15},{"k":"D0","x":36,"y":0.12},{"k":"D0","x":40,"y":0.1},{"k":"D0","x":44,"y":0.09},{"k":"D0","x":48,"y":0.1},{"k":"D0","x":52,"y":0.12},{"k":"D0","x":56,"y":0.15},{"k":"D0","x":60,"y":0.12},{"k":"D0","x":64,"y":0.14},{"k":"D0","x":68,"y":0.18},{"k":"D0","x":72,"y":0.15},{"k":"D0","x":76,"y":0.2},{"k":"D0","x":80,"y":0.17},{"k":"D0","x":84,"y":0.14},{"k":"D0","x":88,"y":0.16},{"k":"D0","x":92,"y":0.2},{"k":"D0","x":96,"y":0.15},{"k":"D0","x":100,"y":0.13},{"k":"D0","x":104,"y":0.16},{"k":"D0","x":108,"y":0.14},{"k":"D0","x":112,"y":0.12},{"k":"D0","x":116,"y":0.16},{"k":"D0","x":120,"y":0.22},{"k":"D0","x":124,"y":0.3},{"k":"D0","x":127,"y":0.37},{"k":"D0","x":130,"y":0.2},{"k":"D0","x":133,"y":0.12},{"k":"D0","x":136,"y":0.1},{"k":"D0","x":139,"y":0.15},{"k":"D0","x":141,"y":0.3},{"k":"D0","x":143,"y":0.45},{"k":"D0","x":146,"y":0.52},{"k":"D0","x":149,"y":0.3},{"k":"D0","x":151,"y":0.22},{"k":"D0","x":154,"y":0.18},{"k":"D0","x":157,"y":0.15},{"k":"D0","x":160,"y":0.14},{"k":"D0","x":163,"y":0.16},{"k":"D0","x":166,"y":0.15},{"k":"D0","x":169,"y":0.12},{"k":"D0","x":172,"y":0.09},{"k":"D0","x":175,"y":0.1},{"k":"D0","x":178,"y":0.15},{"k":"D0","x":181,"y":0.22},{"k":"D0","x":184,"y":0.28},{"k":"D0","x":187,"y":0.3},{"k":"D0","x":190,"y":0.2},{"k":"D0","x":193,"y":0.14},{"k":"D0","x":196,"y":0.12},{"k":"D0","x":199,"y":0.15},{"k":"D0","x":202,"y":0.2},{"k":"D0","x":205,"y":0.15},{"k":"D0","x":208,"y":0.13},{"k":"D0","x":211,"y":0.18},{"k":"D0","x":214,"y":0.15},{"k":"D0","x":217,"y":0.2},{"k":"D0","x":220,"y":0.18},{"k":"D0","x":223,"y":0.22},{"k":"D0","x":226,"y":0.17},{"k":"D0","x":229,"y":0.15},{"k":"D0","x":232,"y":0.18},{"k":"D0","x":235,"y":0.14},{"k":"D0","x":238,"y":0.15},{"k":"D0","x":241,"y":0.18},{"k":"D0","x":244,"y":0.14},{"k":"D0","x":247,"y":0.2},{"k":"D0","x":250,"y":0.17},{"k":"D0","x":253,"y":0.15},{"k":"D0","x":256,"y":0.13},{"k":"D0","x":259,"y":0.11},{"k":"D0","x":262,"y":0.12},{"k":"D0","x":265,"y":0.11},{"k":"D0","x":268,"y":0.14},{"k":"D0","x":271,"y":0.22},{"k":"D0","x":274,"y":0.26},{"k":"D0","x":277,"y":0.29},{"k":"D0","x":280,"y":0.24},{"k":"D0","x":283,"y":0.2},{"k":"D0","x":286,"y":0.15},{"k":"D0","x":289,"y":0.18},{"k":"D0","x":292,"y":0.14},{"k":"D0","x":295,"y":0.2},{"k":"D0","x":298,"y":0.25},{"k":"D0","x":301,"y":0.3},{"k":"D0","x":303,"y":0.36},{"k":"D0","x":306,"y":0.28},{"k":"D0","x":309,"y":0.34},{"k":"D0","x":312,"y":0.38},{"k":"D0","x":315,"y":0.3},{"k":"D0","x":318,"y":0.36},{"k":"D0","x":321,"y":0.25},{"k":"D0","x":324,"y":0.38},{"k":"D0","x":327,"y":0.3},{"k":"D0","x":330,"y":0.45},{"k":"D0","x":333,"y":0.52},
{"k":"D1","x":0,"y":0.42},{"k":"D1","x":3,"y":0.28},{"k":"D1","x":6,"y":0.18},{"k":"D1","x":9,"y":0.2},{"k":"D1","x":12,"y":0.15},{"k":"D1","x":15,"y":0.22},{"k":"D1","x":18,"y":0.25},{"k":"D1","x":21,"y":0.2},{"k":"D1","x":24,"y":0.15},{"k":"D1","x":27,"y":0.18},{"k":"D1","x":30,"y":0.22},{"k":"D1","x":33,"y":0.16},{"k":"D1","x":36,"y":0.12},{"k":"D1","x":40,"y":0.12},{"k":"D1","x":44,"y":0.14},{"k":"D1","x":48,"y":0.16},{"k":"D1","x":52,"y":0.2},{"k":"D1","x":56,"y":0.22},{"k":"D1","x":60,"y":0.25},{"k":"D1","x":64,"y":0.2},{"k":"D1","x":68,"y":0.18},{"k":"D1","x":72,"y":0.22},{"k":"D1","x":76,"y":0.15},{"k":"D1","x":80,"y":0.18},{"k":"D1","x":84,"y":0.2},{"k":"D1","x":88,"y":0.18},{"k":"D1","x":92,"y":0.15},{"k":"D1","x":96,"y":0.25},{"k":"D1","x":100,"y":0.38},{"k":"D1","x":103,"y":0.2},{"k":"D1","x":106,"y":0.22},{"k":"D1","x":109,"y":0.35},{"k":"D1","x":112,"y":0.2},{"k":"D1","x":115,"y":0.25},{"k":"D1","x":118,"y":0.3},{"k":"D1","x":121,"y":0.22},{"k":"D1","x":124,"y":0.3},{"k":"D1","x":126,"y":0.42},{"k":"D1","x":129,"y":0.38},{"k":"D1","x":132,"y":0.2},{"k":"D1","x":135,"y":0.1},{"k":"D1","x":138,"y":0.14},{"k":"D1","x":141,"y":0.22},{"k":"D1","x":144,"y":0.25},{"k":"D1","x":147,"y":0.22},{"k":"D1","x":150,"y":0.24},{"k":"D1","x":153,"y":0.18},{"k":"D1","x":156,"y":0.15},{"k":"D1","x":159,"y":0.14},{"k":"D1","x":162,"y":0.18},{"k":"D1","x":165,"y":0.2},{"k":"D1","x":168,"y":0.18},{"k":"D1","x":171,"y":0.12},{"k":"D1","x":174,"y":0.1},{"k":"D1","x":177,"y":0.15},{"k":"D1","x":180,"y":0.18},{"k":"D1","x":183,"y":0.25},{"k":"D1","x":186,"y":0.22},{"k":"D1","x":189,"y":0.18},{"k":"D1","x":192,"y":0.13},{"k":"D1","x":195,"y":0.12},{"k":"D1","x":198,"y":0.13},{"k":"D1","x":201,"y":0.14},{"k":"D1","x":204,"y":0.18},{"k":"D1","x":207,"y":0.15},{"k":"D1","x":210,"y":0.2},{"k":"D1","x":213,"y":0.25},{"k":"D1","x":216,"y":0.33},{"k":"D1","x":219,"y":0.25},{"k":"D1","x":222,"y":0.18},{"k":"D1","x":225,"y":0.16},{"k":"D1","x":228,"y":0.17},{"k":"D1","x":231,"y":0.2},{"k":"D1","x":234,"y":0.23},{"k":"D1","x":237,"y":0.18},{"k":"D1","x":240,"y":0.2},{"k":"D1","x":243,"y":0.16},{"k":"D1","x":246,"y":0.22},{"k":"D1","x":249,"y":0.2},{"k":"D1","x":252,"y":0.18},{"k":"D1","x":255,"y":0.15},{"k":"D1","x":258,"y":0.12},{"k":"D1","x":261,"y":0.1},{"k":"D1","x":264,"y":0.12},{"k":"D1","x":267,"y":0.15},{"k":"D1","x":270,"y":0.2},{"k":"D1","x":273,"y":0.27},{"k":"D1","x":276,"y":0.25},{"k":"D1","x":279,"y":0.22},{"k":"D1","x":282,"y":0.2},{"k":"D1","x":285,"y":0.13},{"k":"D1","x":288,"y":0.15},{"k":"D1","x":291,"y":0.22},{"k":"D1","x":294,"y":0.25},{"k":"D1","x":297,"y":0.32},{"k":"D1","x":300,"y":0.42},{"k":"D1","x":303,"y":0.35},{"k":"D1","x":306,"y":0.28},{"k":"D1","x":309,"y":0.38},{"k":"D1","x":311,"y":0.48},{"k":"D1","x":314,"y":0.35},{"k":"D1","x":317,"y":0.4},{"k":"D1","x":320,"y":0.45},{"k":"D1","x":323,"y":0.38},{"k":"D1","x":326,"y":0.47},{"k":"D1","x":329,"y":0.42},{"k":"D1","x":331,"y":0.35},{"k":"D1","x":333,"y":0.6},
{"k":"D2","x":0,"y":0.3},{"k":"D2","x":4,"y":0.2},{"k":"D2","x":8,"y":0.16},{"k":"D2","x":12,"y":0.22},{"k":"D2","x":16,"y":0.18},{"k":"D2","x":20,"y":0.14},{"k":"D2","x":24,"y":0.2},{"k":"D2","x":28,"y":0.15},{"k":"D2","x":32,"y":0.12},{"k":"D2","x":35,"y":0.08},{"k":"D2","x":38,"y":0.12},{"k":"D2","x":41,"y":0.22},{"k":"D2","x":44,"y":0.34},{"k":"D2","x":47,"y":0.15},{"k":"D2","x":50,"y":0.12},{"k":"D2","x":53,"y":0.1},{"k":"D2","x":56,"y":0.15},{"k":"D2","x":60,"y":0.12},{"k":"D2","x":64,"y":0.18},{"k":"D2","x":68,"y":0.14},{"k":"D2","x":72,"y":0.2},{"k":"D2","x":76,"y":0.15},{"k":"D2","x":80,"y":0.12},{"k":"D2","x":84,"y":0.18},{"k":"D2","x":88,"y":0.42},{"k":"D2","x":91,"y":0.2},{"k":"D2","x":94,"y":0.12},{"k":"D2","x":97,"y":0.08},{"k":"D2","x":100,"y":0.12},{"k":"D2","x":104,"y":0.18},{"k":"D2","x":108,"y":0.14},{"k":"D2","x":112,"y":0.12},{"k":"D2","x":116,"y":0.16},{"k":"D2","x":120,"y":0.13},{"k":"D2","x":124,"y":0.18},
{"k":"D3","x":0,"y":0.22},{"k":"D3","x":4,"y":0.18},{"k":"D3","x":8,"y":0.14},{"k":"D3","x":12,"y":0.16},{"k":"D3","x":16,"y":0.2},{"k":"D3","x":20,"y":0.18},{"k":"D3","x":24,"y":0.24},{"k":"D3","x":28,"y":0.28},{"k":"D3","x":32,"y":0.18},{"k":"D3","x":36,"y":0.12},{"k":"D3","x":40,"y":0.15},{"k":"D3","x":44,"y":0.1},{"k":"D3","x":48,"y":0.12},{"k":"D3","x":52,"y":0.1},{"k":"D3","x":56,"y":0.13},{"k":"D3","x":60,"y":0.16},{"k":"D3","x":64,"y":0.14},{"k":"D3","x":68,"y":0.2},{"k":"D3","x":72,"y":0.25},{"k":"D3","x":76,"y":0.22},{"k":"D3","x":80,"y":0.18},{"k":"D3","x":84,"y":0.15},{"k":"D3","x":88,"y":0.2},{"k":"D3","x":92,"y":0.14},{"k":"D3","x":96,"y":0.12},{"k":"D3","x":100,"y":0.15},{"k":"D3","x":104,"y":0.2},{"k":"D3","x":108,"y":0.14},{"k":"D3","x":112,"y":0.12},{"k":"D3","x":116,"y":0.16},{"k":"D3","x":120,"y":0.22},{"k":"D3","x":124,"y":0.26},
{"k":"D4","x":0,"y":0.25},{"k":"D4","x":4,"y":0.2},{"k":"D4","x":8,"y":0.15},{"k":"D4","x":12,"y":0.18},{"k":"D4","x":16,"y":0.22},{"k":"D4","x":20,"y":0.18},{"k":"D4","x":24,"y":0.25},{"k":"D4","x":28,"y":0.2},{"k":"D4","x":32,"y":0.15},{"k":"D4","x":36,"y":0.12},{"k":"D4","x":40,"y":0.14},{"k":"D4","x":44,"y":0.18},{"k":"D4","x":48,"y":0.15},{"k":"D4","x":52,"y":0.2},{"k":"D4","x":56,"y":0.25},{"k":"D4","x":60,"y":0.2},{"k":"D4","x":64,"y":0.15},{"k":"D4","x":68,"y":0.2},{"k":"D4","x":72,"y":0.17},{"k":"D4","x":76,"y":0.22},{"k":"D4","x":80,"y":0.18},{"k":"D4","x":84,"y":0.25},{"k":"D4","x":88,"y":0.2},{"k":"D4","x":92,"y":0.12},{"k":"D4","x":96,"y":0.18},{"k":"D4","x":100,"y":0.25},{"k":"D4","x":103,"y":0.15},{"k":"D4","x":106,"y":0.28},{"k":"D4","x":108,"y":0.43},{"k":"D4","x":110,"y":0.2},
{"k":"D5","x":0,"y":0.35},{"k":"D5","x":4,"y":0.25},{"k":"D5","x":8,"y":0.2},{"k":"D5","x":12,"y":0.3},{"k":"D5","x":15,"y":0.4},{"k":"D5","x":18,"y":0.32},{"k":"D5","x":21,"y":0.2},{"k":"D5","x":24,"y":0.15},{"k":"D5","x":27,"y":0.22},{"k":"D5","x":30,"y":0.18},{"k":"D5","x":33,"y":0.12},{"k":"D5","x":36,"y":0.15},{"k":"D5","x":39,"y":0.28},{"k":"D5","x":42,"y":0.2},{"k":"D5","x":45,"y":0.15},{"k":"D5","x":48,"y":0.12},{"k":"D5","x":52,"y":0.15},{"k":"D5","x":56,"y":0.2},{"k":"D5","x":60,"y":0.25},{"k":"D5","x":63,"y":0.2},{"k":"D5","x":66,"y":0.28},{"k":"D5","x":69,"y":0.36},{"k":"D5","x":72,"y":0.22},{"k":"D5","x":75,"y":0.15},{"k":"D5","x":78,"y":0.2},{"k":"D5","x":81,"y":0.38},{"k":"D5","x":84,"y":0.25},{"k":"D5","x":87,"y":0.18},{"k":"D5","x":90,"y":0.14},{"k":"D5","x":93,"y":0.18},{"k":"D5","x":96,"y":0.2},{"k":"D5","x":99,"y":0.15},{"k":"D5","x":102,"y":0.2},{"k":"D5","x":105,"y":0.18},{"k":"D5","x":108,"y":0.15},
{"k":"E0","x":0,"y":1.35},{"k":"E0","x":2,"y":1.33},{"k":"E0","x":4,"y":1.25},{"k":"E0","x":6,"y":1.15},{"k":"E0","x":8,"y":1.1},{"k":"E0","x":10,"y":0.95},{"k":"E0","x":12,"y":1.0},{"k":"E0","x":14,"y":0.88},{"k":"E0","x":16,"y":0.8},{"k":"E0","x":18,"y":0.72},{"k":"E0","x":20,"y":0.65},{"k":"E0","x":22,"y":0.68},{"k":"E0","x":24,"y":0.6},{"k":"E0","x":26,"y":0.62},{"k":"E0","x":28,"y":0.55},{"k":"E0","x":30,"y":0.68},{"k":"E0","x":32,"y":0.5},{"k":"E0","x":34,"y":0.45},{"k":"E0","x":36,"y":0.52},{"k":"E0","x":38,"y":0.45},{"k":"E0","x":40,"y":0.42},{"k":"E0","x":42,"y":0.48},{"k":"E0","x":44,"y":0.4},{"k":"E0","x":46,"y":0.35},{"k":"E0","x":48,"y":0.42},{"k":"E0","x":50,"y":0.5},{"k":"E0","x":52,"y":0.55},{"k":"E0","x":54,"y":0.65},{"k":"E0","x":56,"y":0.78},{"k":"E0","x":58,"y":0.83},{"k":"E0","x":60,"y":0.72},{"k":"E0","x":62,"y":0.6},{"k":"E0","x":64,"y":0.5},{"k":"E0","x":66,"y":0.45},{"k":"E0","x":68,"y":0.38},{"k":"E0","x":70,"y":0.4},{"k":"E0","x":72,"y":0.35},{"k":"E0","x":74,"y":0.3},{"k":"E0","x":76,"y":0.35},{"k":"E0","x":78,"y":0.45},{"k":"E0","x":80,"y":0.52},{"k":"E0","x":82,"y":0.58},{"k":"E0","x":84,"y":0.45},{"k":"E0","x":86,"y":0.4},{"k":"E0","x":88,"y":0.35},{"k":"E0","x":90,"y":0.38},{"k":"E0","x":92,"y":0.32},{"k":"E0","x":94,"y":0.35},{"k":"E0","x":96,"y":0.3},{"k":"E0","x":98,"y":0.38},{"k":"E0","x":100,"y":0.42},{"k":"E0","x":102,"y":0.48},{"k":"E0","x":104,"y":0.45},{"k":"E0","x":106,"y":0.5},{"k":"E0","x":108,"y":0.45},{"k":"E0","x":110,"y":0.4},{"k":"E0","x":112,"y":0.35},{"k":"E0","x":114,"y":0.3},{"k":"E0","x":116,"y":0.28},{"k":"E0","x":118,"y":0.32},{"k":"E0","x":120,"y":0.3},{"k":"E0","x":122,"y":0.25},{"k":"E0","x":125,"y":0.28},{"k":"E0","x":128,"y":0.35},{"k":"E0","x":131,"y":0.42},{"k":"E0","x":134,"y":0.35},{"k":"E0","x":136,"y":0.25},{"k":"E0","x":138,"y":0.3},{"k":"E0","x":140,"y":0.22},{"k":"E0","x":142,"y":0.3},{"k":"E0","x":144,"y":0.35},{"k":"E0","x":146,"y":0.28},{"k":"E0","x":148,"y":0.4},{"k":"E0","x":150,"y":0.32},{"k":"E0","x":152,"y":0.45},{"k":"E0","x":154,"y":0.38},{"k":"E0","x":156,"y":0.5},{"k":"E0","x":158,"y":0.45},{"k":"E0","x":159,"y":0.63},{"k":"E0","x":160,"y":0.5},{"k":"E0","x":161,"y":0.57},
{"k":"E1","x":0,"y":0.55},{"k":"E1","x":3,"y":0.4},{"k":"E1","x":6,"y":0.35},{"k":"E1","x":9,"y":0.3},{"k":"E1","x":12,"y":0.28},{"k":"E1","x":15,"y":0.32},{"k":"E1","x":18,"y":0.25},{"k":"E1","x":21,"y":0.22},{"k":"E1","x":24,"y":0.3},{"k":"E1","x":27,"y":0.25},{"k":"E1","x":30,"y":0.28},{"k":"E1","x":33,"y":0.22},{"k":"E1","x":36,"y":0.25},{"k":"E1","x":39,"y":0.2},{"k":"E1","x":42,"y":0.25},{"k":"E1","x":45,"y":0.2},{"k":"E1","x":48,"y":0.22},{"k":"E1","x":51,"y":0.18},{"k":"E1","x":54,"y":0.25},{"k":"E1","x":57,"y":0.2},{"k":"E1","x":60,"y":0.22},{"k":"E1","x":63,"y":0.18},{"k":"E1","x":66,"y":0.2},{"k":"E1","x":69,"y":0.25},{"k":"E1","x":72,"y":0.2},{"k":"E1","x":75,"y":0.15},{"k":"E1","x":78,"y":0.2},{"k":"E1","x":81,"y":0.16},{"k":"E1","x":84,"y":0.13},{"k":"E1","x":87,"y":0.15},{"k":"E1","x":90,"y":0.14},{"k":"E1","x":93,"y":0.18},{"k":"E1","x":96,"y":0.22},{"k":"E1","x":99,"y":0.15},{"k":"E1","x":102,"y":0.25},{"k":"E1","x":104,"y":0.18},{"k":"E1","x":107,"y":0.3},{"k":"E1","x":110,"y":0.2},{"k":"E1","x":113,"y":0.18},{"k":"E1","x":116,"y":0.17},{"k":"E1","x":119,"y":0.2},{"k":"E1","x":122,"y":0.15},{"k":"E1","x":125,"y":0.2},{"k":"E1","x":128,"y":0.25},{"k":"E1","x":131,"y":0.2},{"k":"E1","x":134,"y":0.18},{"k":"E1","x":137,"y":0.15},{"k":"E1","x":140,"y":0.18},{"k":"E1","x":143,"y":0.25},{"k":"E1","x":146,"y":0.2},{"k":"E1","x":149,"y":0.15},{"k":"E1","x":152,"y":0.22},{"k":"E1","x":155,"y":0.18},{"k":"E1","x":158,"y":0.25},{"k":"E1","x":161,"y":0.2},
{"k":"E2","x":0,"y":0.68},{"k":"E2","x":2,"y":0.5},{"k":"E2","x":4,"y":0.35},{"k":"E2","x":6,"y":0.25},{"k":"E2","x":8,"y":0.3},{"k":"E2","x":11,"y":0.4},{"k":"E2","x":14,"y":0.45},{"k":"E2","x":17,"y":0.42},{"k":"E2","x":20,"y":0.38},{"k":"E2","x":23,"y":0.45},{"k":"E2","x":26,"y":0.55},{"k":"E2","x":29,"y":0.5},{"k":"E2","x":32,"y":0.4},{"k":"E2","x":35,"y":0.35},{"k":"E2","x":38,"y":0.5},{"k":"E2","x":41,"y":0.62},{"k":"E2","x":44,"y":0.45},{"k":"E2","x":47,"y":0.35},{"k":"E2","x":50,"y":0.4},{"k":"E2","x":53,"y":0.45},{"k":"E2","x":56,"y":0.42},{"k":"E2","x":59,"y":0.5},{"k":"E2","x":62,"y":0.38},{"k":"E2","x":65,"y":0.3},{"k":"E2","x":68,"y":0.32},{"k":"E2","x":71,"y":0.28},{"k":"E2","x":74,"y":0.35},{"k":"E2","x":77,"y":0.3},{"k":"E2","x":80,"y":0.25},{"k":"E2","x":83,"y":0.3},{"k":"E2","x":86,"y":0.38},{"k":"E2","x":89,"y":0.45},{"k":"E2","x":92,"y":0.35},{"k":"E2","x":95,"y":0.32},{"k":"E2","x":98,"y":0.4},{"k":"E2","x":101,"y":0.6},{"k":"E2","x":103,"y":0.78},{"k":"E2","x":105,"y":0.75},{"k":"E2","x":107,"y":0.6},{"k":"E2","x":110,"y":0.55},{"k":"E2","x":113,"y":0.45},{"k":"E2","x":116,"y":0.35},{"k":"E2","x":119,"y":0.3},{"k":"E2","x":122,"y":0.5},
{"k":"E3","x":0,"y":0.3},{"k":"E3","x":3,"y":0.2},{"k":"E3","x":6,"y":0.12},{"k":"E3","x":9,"y":0.15},{"k":"E3","x":12,"y":0.2},{"k":"E3","x":15,"y":0.25},{"k":"E3","x":18,"y":0.18},{"k":"E3","x":21,"y":0.14},{"k":"E3","x":24,"y":0.15},{"k":"E3","x":27,"y":0.2},{"k":"E3","x":30,"y":0.18},{"k":"E3","x":33,"y":0.15},{"k":"E3","x":36,"y":0.1},{"k":"E3","x":39,"y":0.14},{"k":"E3","x":42,"y":0.2},{"k":"E3","x":45,"y":0.18},{"k":"E3","x":48,"y":0.12},{"k":"E3","x":51,"y":0.15},{"k":"E3","x":54,"y":0.2},{"k":"E3","x":57,"y":0.18},{"k":"E3","x":60,"y":0.22},{"k":"E3","x":63,"y":0.18},{"k":"E3","x":66,"y":0.15},{"k":"E3","x":69,"y":0.2},{"k":"E3","x":72,"y":0.15},{"k":"E3","x":75,"y":0.18},{"k":"E3","x":78,"y":0.14},{"k":"E3","x":81,"y":0.18},{"k":"E3","x":84,"y":0.15},{"k":"E3","x":87,"y":0.12},{"k":"E3","x":90,"y":0.15},{"k":"E3","x":93,"y":0.1},{"k":"E3","x":96,"y":0.14},{"k":"E3","x":99,"y":0.15},{"k":"E3","x":102,"y":0.12},{"k":"E3","x":105,"y":0.15},{"k":"E3","x":108,"y":0.13},{"k":"E3","x":111,"y":0.16},{"k":"E3","x":114,"y":0.12},{"k":"E3","x":117,"y":0.15},{"k":"E3","x":120,"y":0.2},
{"k":"E4","x":0,"y":0.42},{"k":"E4","x":3,"y":0.35},{"k":"E4","x":6,"y":0.38},{"k":"E4","x":9,"y":0.45},{"k":"E4","x":12,"y":0.42},{"k":"E4","x":15,"y":0.35},{"k":"E4","x":18,"y":0.3},{"k":"E4","x":21,"y":0.28},{"k":"E4","x":24,"y":0.35},{"k":"E4","x":27,"y":0.45},{"k":"E4","x":30,"y":0.5},{"k":"E4","x":33,"y":0.45},{"k":"E4","x":36,"y":0.35},{"k":"E4","x":39,"y":0.25},{"k":"E4","x":42,"y":0.2},{"k":"E4","x":45,"y":0.25},{"k":"E4","x":48,"y":0.3},{"k":"E4","x":51,"y":0.35},{"k":"E4","x":54,"y":0.45},{"k":"E4","x":57,"y":0.4},{"k":"E4","x":60,"y":0.35},{"k":"E4","x":63,"y":0.3},{"k":"E4","x":66,"y":0.35},{"k":"E4","x":69,"y":0.45},{"k":"E4","x":72,"y":0.4},{"k":"E4","x":75,"y":0.32},{"k":"E4","x":78,"y":0.3},{"k":"E4","x":81,"y":0.35},{"k":"E4","x":84,"y":0.4},{"k":"E4","x":87,"y":0.45},{"k":"E4","x":90,"y":0.38},{"k":"E4","x":93,"y":0.35},{"k":"E4","x":96,"y":0.42},{"k":"E4","x":99,"y":0.5},{"k":"E4","x":102,"y":0.45},{"k":"E4","x":105,"y":0.52},{"k":"E4","x":108,"y":0.58},{"k":"E4","x":110,"y":0.55},
{"k":"E5","x":0,"y":0.6},{"k":"E5","x":3,"y":0.45},{"k":"E5","x":6,"y":0.38},{"k":"E5","x":9,"y":0.4},{"k":"E5","x":12,"y":0.35},{"k":"E5","x":15,"y":0.3},{"k":"E5","x":18,"y":0.32},{"k":"E5","x":21,"y":0.4},{"k":"E5","x":24,"y":0.48},{"k":"E5","x":27,"y":0.38},{"k":"E5","x":30,"y":0.3},{"k":"E5","x":33,"y":0.28},{"k":"E5","x":36,"y":0.3},{"k":"E5","x":39,"y":0.25},{"k":"E5","x":42,"y":0.28},{"k":"E5","x":45,"y":0.35},{"k":"E5","x":48,"y":0.42},{"k":"E5","x":51,"y":0.45},{"k":"E5","x":54,"y":0.4},{"k":"E5","x":57,"y":0.5},{"k":"E5","x":60,"y":0.42},{"k":"E5","x":63,"y":0.35},{"k":"E5","x":66,"y":0.3},{"k":"E5","x":69,"y":0.28},{"k":"E5","x":72,"y":0.22},{"k":"E5","x":75,"y":0.25},{"k":"E5","x":78,"y":0.2},{"k":"E5","x":81,"y":0.18},{"k":"E5","x":84,"y":0.16},{"k":"E5","x":87,"y":0.14},{"k":"E5","x":90,"y":0.18},{"k":"E5","x":93,"y":0.2},{"k":"E5","x":96,"y":0.18},{"k":"E5","x":99,"y":0.22},{"k":"E5","x":102,"y":0.2},{"k":"E5","x":105,"y":0.25},{"k":"E5","x":108,"y":0.35},{"k":"E5","x":110,"y":0.3},
{"k":"F0","x":0,"y":0.7},{"k":"F0","x":3,"y":0.55},{"k":"F0","x":6,"y":0.45},{"k":"F0","x":9,"y":0.42},{"k":"F0","x":12,"y":0.44},{"k":"F0","x":15,"y":0.45},{"k":"F0","x":18,"y":0.42},{"k":"F0","x":21,"y":0.45},{"k":"F0","x":24,"y":0.4},{"k":"F0","x":27,"y":0.35},{"k":"F0","x":30,"y":0.3},{"k":"F0","x":33,"y":0.32},{"k":"F0","x":36,"y":0.35},{"k":"F0","x":39,"y":0.42},{"k":"F0","x":42,"y":0.4},{"k":"F0","x":45,"y":0.35},{"k":"F0","x":48,"y":0.3},{"k":"F0","x":51,"y":0.32},{"k":"F0","x":54,"y":0.35},{"k":"F0","x":57,"y":0.3},{"k":"F0","x":60,"y":0.28},{"k":"F0","x":63,"y":0.32},{"k":"F0","x":66,"y":0.35},{"k":"F0","x":69,"y":0.3},{"k":"F0","x":72,"y":0.25},{"k":"F0","x":75,"y":0.22},{"k":"F0","x":78,"y":0.2},{"k":"F0","x":81,"y":0.25},{"k":"F0","x":84,"y":0.3},{"k":"F0","x":87,"y":0.28},{"k":"F0","x":90,"y":0.32},{"k":"F0","x":93,"y":0.3},{"k":"F0","x":96,"y":0.35},{"k":"F0","x":99,"y":0.38},{"k":"F0","x":102,"y":0.45},{"k":"F0","x":105,"y":0.42},{"k":"F0","x":108,"y":0.38},{"k":"F0","x":111,"y":0.35},{"k":"F0","x":114,"y":0.3},{"k":"F0","x":117,"y":0.28},{"k":"F0","x":120,"y":0.25},{"k":"F0","x":123,"y":0.22},{"k":"F0","x":126,"y":0.25},{"k":"F0","x":129,"y":0.3},{"k":"F0","x":132,"y":0.35},{"k":"F0","x":135,"y":0.28},{"k":"F0","x":138,"y":0.22},{"k":"F0","x":141,"y":0.2},{"k":"F0","x":144,"y":0.25},{"k":"F0","x":147,"y":0.3},{"k":"F0","x":150,"y":0.25},{"k":"F0","x":153,"y":0.3},{"k":"F0","x":156,"y":0.35},{"k":"F0","x":158,"y":0.45},{"k":"F0","x":160,"y":0.5},{"k":"F0","x":161,"y":0.75},
{"k":"F1","x":0,"y":1.15},{"k":"F1","x":2,"y":1.12},{"k":"F1","x":4,"y":1.05},{"k":"F1","x":6,"y":1.05},{"k":"F1","x":8,"y":0.9},{"k":"F1","x":10,"y":0.78},{"k":"F1","x":12,"y":0.7},{"k":"F1","x":14,"y":0.6},{"k":"F1","x":15,"y":0.5},{"k":"F1","x":17,"y":0.62},{"k":"F1","x":19,"y":0.7},{"k":"F1","x":21,"y":0.58},{"k":"F1","x":23,"y":0.5},{"k":"F1","x":25,"y":0.45},{"k":"F1","x":27,"y":0.4},{"k":"F1","x":29,"y":0.35},{"k":"F1","x":31,"y":0.42},{"k":"F1","x":33,"y":0.5},{"k":"F1","x":35,"y":0.45},{"k":"F1","x":37,"y":0.4},{"k":"F1","x":39,"y":0.5},{"k":"F1","x":41,"y":0.6},{"k":"F1","x":43,"y":0.55},{"k":"F1","x":45,"y":0.65},{"k":"F1","x":47,"y":0.7},{"k":"F1","x":49,"y":0.75},{"k":"F1","x":51,"y":0.82},{"k":"F1","x":53,"y":0.85},{"k":"F1","x":55,"y":0.95},{"k":"F1","x":57,"y":1.05},{"k":"F1","x":58,"y":1.12},{"k":"F1","x":60,"y":0.9},{"k":"F1","x":62,"y":0.82},{"k":"F1","x":64,"y":0.85},{"k":"F1","x":66,"y":0.72},{"k":"F1","x":68,"y":0.7},{"k":"F1","x":70,"y":0.6},{"k":"F1","x":72,"y":0.58},{"k":"F1","x":74,"y":0.55},{"k":"F1","x":76,"y":0.48},{"k":"F1","x":78,"y":0.45},{"k":"F1","x":80,"y":0.4},{"k":"F1","x":82,"y":0.35},{"k":"F1","x":84,"y":0.38},{"k":"F1","x":86,"y":0.45},{"k":"F1","x":88,"y":0.5},{"k":"F1","x":90,"y":0.55},{"k":"F1","x":92,"y":0.62},{"k":"F1","x":94,"y":0.75},{"k":"F1","x":96,"y":0.8},{"k":"F1","x":98,"y":0.88},{"k":"F1","x":100,"y":0.85},{"k":"F1","x":101,"y":0.99},{"k":"F1","x":103,"y":0.92},{"k":"F1","x":105,"y":0.8},{"k":"F1","x":107,"y":0.85},{"k":"F1","x":109,"y":0.68},{"k":"F1","x":111,"y":0.55},{"k":"F1","x":113,"y":0.48},{"k":"F1","x":115,"y":0.45},{"k":"F1","x":117,"y":0.5},{"k":"F1","x":119,"y":0.42},{"k":"F1","x":121,"y":0.38},{"k":"F1","x":123,"y":0.3},{"k":"F1","x":125,"y":0.28},{"k":"F1","x":127,"y":0.35},{"k":"F1","x":129,"y":0.45},{"k":"F1","x":131,"y":0.55},{"k":"F1","x":133,"y":0.5},{"k":"F1","x":135,"y":0.35},{"k":"F1","x":137,"y":0.3},{"k":"F1","x":139,"y":0.28},{"k":"F1","x":141,"y":0.3},{"k":"F1","x":143,"y":0.25},{"k":"F1","x":145,"y":0.32},{"k":"F1","x":147,"y":0.3},{"k":"F1","x":149,"y":0.4},{"k":"F1","x":151,"y":0.45},{"k":"F1","x":153,"y":0.5},{"k":"F1","x":155,"y":0.55},{"k":"F1","x":157,"y":0.65},{"k":"F1","x":159,"y":0.72},{"k":"F1","x":160,"y":0.6},{"k":"F1","x":161,"y":0.65},
{"k":"F2","x":0,"y":0.4},{"k":"F2","x":2,"y":0.28},{"k":"F2","x":4,"y":0.2},{"k":"F2","x":6,"y":0.18},{"k":"F2","x":8,"y":0.25},{"k":"F2","x":10,"y":0.3},{"k":"F2","x":12,"y":0.35},{"k":"F2","x":14,"y":0.4},{"k":"F2","x":16,"y":0.35},{"k":"F2","x":18,"y":0.28},{"k":"F2","x":20,"y":0.2},{"k":"F2","x":22,"y":0.18},{"k":"F2","x":24,"y":0.22},{"k":"F2","x":26,"y":0.28},{"k":"F2","x":28,"y":0.32},{"k":"F2","x":30,"y":0.3},{"k":"F2","x":32,"y":0.25},{"k":"F2","x":34,"y":0.2},{"k":"F2","x":36,"y":0.14},{"k":"F2","x":38,"y":0.16},{"k":"F2","x":40,"y":0.22},{"k":"F2","x":42,"y":0.25},{"k":"F2","x":44,"y":0.18},{"k":"F2","x":46,"y":0.14},{"k":"F2","x":48,"y":0.16},{"k":"F2","x":50,"y":0.2},{"k":"F2","x":53,"y":0.28},{"k":"F2","x":56,"y":0.3},{"k":"F2","x":59,"y":0.25},{"k":"F2","x":62,"y":0.2},{"k":"F2","x":65,"y":0.25},{"k":"F2","x":68,"y":0.3},{"k":"F2","x":71,"y":0.25},{"k":"F2","x":74,"y":0.22},{"k":"F2","x":77,"y":0.25},{"k":"F2","x":80,"y":0.2},{"k":"F2","x":83,"y":0.24},{"k":"F2","x":86,"y":0.3},{"k":"F2","x":89,"y":0.25},{"k":"F2","x":92,"y":0.2},{"k":"F2","x":95,"y":0.15},{"k":"F2","x":98,"y":0.14},{"k":"F2","x":101,"y":0.2},{"k":"F2","x":104,"y":0.3},{"k":"F2","x":106,"y":0.38},{"k":"F2","x":108,"y":0.3},{"k":"F2","x":110,"y":0.25},{"k":"F2","x":112,"y":0.22},{"k":"F2","x":114,"y":0.18},{"k":"F2","x":117,"y":0.15},{"k":"F2","x":120,"y":0.2},{"k":"F2","x":123,"y":0.25},{"k":"F2","x":125,"y":0.5},
{"k":"F3","x":0,"y":0.6},{"k":"F3","x":3,"y":0.5},{"k":"F3","x":6,"y":0.38},{"k":"F3","x":9,"y":0.3},{"k":"F3","x":12,"y":0.28},{"k":"F3","x":15,"y":0.35},{"k":"F3","x":18,"y":0.4},{"k":"F3","x":21,"y":0.45},{"k":"F3","x":24,"y":0.5},{"k":"F3","x":27,"y":0.45},{"k":"F3","x":30,"y":0.35},{"k":"F3","x":33,"y":0.3},{"k":"F3","x":36,"y":0.32},{"k":"F3","x":39,"y":0.45},{"k":"F3","x":42,"y":0.55},{"k":"F3","x":45,"y":0.6},{"k":"F3","x":48,"y":0.55},{"k":"F3","x":51,"y":0.5},{"k":"F3","x":54,"y":0.45},{"k":"F3","x":57,"y":0.5},{"k":"F3","x":60,"y":0.55},{"k":"F3","x":63,"y":0.6},{"k":"F3","x":66,"y":0.52},{"k":"F3","x":69,"y":0.45},{"k":"F3","x":72,"y":0.4},{"k":"F3","x":75,"y":0.35},{"k":"F3","x":78,"y":0.3},{"k":"F3","x":81,"y":0.28},{"k":"F3","x":84,"y":0.35},{"k":"F3","x":87,"y":0.42},{"k":"F3","x":90,"y":0.48},{"k":"F3","x":93,"y":0.52},{"k":"F3","x":96,"y":0.55},{"k":"F3","x":99,"y":0.6},{"k":"F3","x":102,"y":0.65},{"k":"F3","x":105,"y":0.7},{"k":"F3","x":107,"y":0.6},{"k":"F3","x":110,"y":0.5},{"k":"F3","x":113,"y":0.45},{"k":"F3","x":116,"y":0.5},{"k":"F3","x":119,"y":0.4},{"k":"F3","x":122,"y":0.35},{"k":"F3","x":125,"y":0.3},{"k":"F3","x":127,"y":0.55},{"k":"F3","x":128,"y":0.73},
{"k":"F4","x":0,"y":0.35},{"k":"F4","x":2,"y":0.25},{"k":"F4","x":4,"y":0.2},{"k":"F4","x":6,"y":0.22},{"k":"F4","x":8,"y":0.25},{"k":"F4","x":10,"y":0.3},{"k":"F4","x":12,"y":0.33},{"k":"F4","x":14,"y":0.38},{"k":"F4","x":16,"y":0.35},{"k":"F4","x":18,"y":0.3},{"k":"F4","x":20,"y":0.25},{"k":"F4","x":22,"y":0.2},{"k":"F4","x":24,"y":0.22},{"k":"F4","x":26,"y":0.25},{"k":"F4","x":28,"y":0.3},{"k":"F4","x":30,"y":0.35},{"k":"F4","x":32,"y":0.3},{"k":"F4","x":34,"y":0.25},{"k":"F4","x":36,"y":0.2},{"k":"F4","x":38,"y":0.17},{"k":"F4","x":40,"y":0.22},{"k":"F4","x":42,"y":0.3},{"k":"F4","x":44,"y":0.25},{"k":"F4","x":46,"y":0.2},{"k":"F4","x":48,"y":0.22},{"k":"F4","x":50,"y":0.28},{"k":"F4","x":52,"y":0.32},{"k":"F4","x":54,"y":0.3},{"k":"F4","x":56,"y":0.35},{"k":"F4","x":58,"y":0.38},{"k":"F4","x":60,"y":0.33},{"k":"F4","x":62,"y":0.3},{"k":"F4","x":64,"y":0.28},{"k":"F4","x":66,"y":0.32},{"k":"F4","x":68,"y":0.35},{"k":"F4","x":70,"y":0.33},{"k":"F4","x":72,"y":0.38},{"k":"F4","x":74,"y":0.4},{"k":"F4","x":76,"y":0.38},{"k":"F4","x":78,"y":0.35},{"k":"F4","x":80,"y":0.3},{"k":"F4","x":82,"y":0.25},{"k":"F4","x":84,"y":0.22},{"k":"F4","x":86,"y":0.25},{"k":"F4","x":88,"y":0.2},{"k":"F4","x":90,"y":0.18},{"k":"F4","x":92,"y":0.22},{"k":"F4","x":94,"y":0.18},{"k":"F4","x":96,"y":0.16},{"k":"F4","x":98,"y":0.2},{"k":"F4","x":100,"y":0.28},{"k":"F4","x":102,"y":0.3},{"k":"F4","x":104,"y":0.4},{"k":"F4","x":106,"y":0.48},
{"k":"F5","x":0,"y":0.72},{"k":"F5","x":2,"y":0.65},{"k":"F5","x":4,"y":0.6},{"k":"F5","x":6,"y":0.65},{"k":"F5","x":8,"y":0.5},{"k":"F5","x":10,"y":0.45},{"k":"F5","x":12,"y":0.6},{"k":"F5","x":14,"y":0.74},{"k":"F5","x":16,"y":0.7},{"k":"F5","x":18,"y":0.6},{"k":"F5","x":20,"y":0.5},{"k":"F5","x":22,"y":0.45},{"k":"F5","x":24,"y":0.5},{"k":"F5","x":26,"y":0.42},{"k":"F5","x":28,"y":0.35},{"k":"F5","x":30,"y":0.4},{"k":"F5","x":33,"y":0.5},{"k":"F5","x":36,"y":0.55},{"k":"F5","x":39,"y":0.62},{"k":"F5","x":42,"y":0.72},{"k":"F5","x":45,"y":0.6},{"k":"F5","x":48,"y":0.5},{"k":"F5","x":51,"y":0.48},{"k":"F5","x":54,"y":0.55},{"k":"F5","x":57,"y":0.6},{"k":"F5","x":60,"y":0.62},{"k":"F5","x":63,"y":0.55},{"k":"F5","x":66,"y":0.5},{"k":"F5","x":69,"y":0.45},{"k":"F5","x":72,"y":0.55},{"k":"F5","x":75,"y":0.62},{"k":"F5","x":78,"y":0.68},{"k":"F5","x":80,"y":0.74},{"k":"F5","x":82,"y":0.6},{"k":"F5","x":85,"y":0.5},{"k":"F5","x":88,"y":0.45},{"k":"F5","x":91,"y":0.4},{"k":"F5","x":94,"y":0.42},{"k":"F5","x":97,"y":0.48},{"k":"F5","x":100,"y":0.55},{"k":"F5","x":103,"y":0.58},{"k":"F5","x":105,"y":0.52},
{"k":"G0","x":0,"y":0.92},{"k":"G0","x":2,"y":0.75},{"k":"G0","x":4,"y":0.5},{"k":"G0","x":6,"y":0.45},{"k":"G0","x":8,"y":0.5},{"k":"G0","x":10,"y":0.55},{"k":"G0","x":12,"y":0.65},{"k":"G0","x":14,"y":0.8},{"k":"G0","x":16,"y":0.7},{"k":"G0","x":18,"y":0.6},{"k":"G0","x":20,"y":0.65},{"k":"G0","x":22,"y":0.72},{"k":"G0","x":24,"y":0.78},{"k":"G0","x":26,"y":0.85},{"k":"G0","x":28,"y":0.9},{"k":"G0","x":30,"y":0.95},{"k":"G0","x":32,"y":0.8},{"k":"G0","x":34,"y":0.7},{"k":"G0","x":36,"y":0.62},{"k":"G0","x":38,"y":0.55},{"k":"G0","x":40,"y":0.5},{"k":"G0","x":42,"y":0.6},{"k":"G0","x":44,"y":0.72},{"k":"G0","x":46,"y":0.9},{"k":"G0","x":48,"y":0.8},{"k":"G0","x":50,"y":0.85},{"k":"G0","x":52,"y":1.0},{"k":"G0","x":54,"y":1.07},{"k":"G0","x":56,"y":1.02},{"k":"G0","x":58,"y":0.9},{"k":"G0","x":60,"y":0.8},{"k":"G0","x":62,"y":0.72},{"k":"G0","x":64,"y":0.65},{"k":"G0","x":66,"y":0.6},{"k":"G0","x":68,"y":0.55},{"k":"G0","x":70,"y":0.6},{"k":"G0","x":72,"y":0.7},{"k":"G0","x":74,"y":0.62},{"k":"G0","x":76,"y":0.55},{"k":"G0","x":78,"y":0.52},{"k":"G0","x":80,"y":0.48},{"k":"G0","x":82,"y":0.55},{"k":"G0","x":84,"y":0.5},{"k":"G0","x":86,"y":0.45},{"k":"G0","x":88,"y":0.52},{"k":"G0","x":90,"y":0.45},{"k":"G0","x":92,"y":0.55},{"k":"G0","x":94,"y":0.6},{"k":"G0","x":96,"y":0.55},{"k":"G0","x":98,"y":0.48},{"k":"G0","x":100,"y":0.55},{"k":"G0","x":102,"y":0.6},{"k":"G0","x":104,"y":0.55},{"k":"G0","x":106,"y":0.5},{"k":"G0","x":108,"y":0.45},{"k":"G0","x":110,"y":0.5},{"k":"G0","x":112,"y":0.6},{"k":"G0","x":114,"y":0.7},{"k":"G0","x":116,"y":0.8},{"k":"G0","x":118,"y":0.6},{"k":"G0","x":120,"y":0.45},{"k":"G0","x":122,"y":0.38},{"k":"G0","x":124,"y":0.5},{"k":"G0","x":126,"y":0.45},{"k":"G0","x":128,"y":0.55},{"k":"G0","x":130,"y":0.6},{"k":"G0","x":132,"y":0.75},{"k":"G0","x":134,"y":0.85},{"k":"G0","x":136,"y":0.95},{"k":"G0","x":138,"y":0.98},{"k":"G0","x":140,"y":1.1},{"k":"G0","x":142,"y":1.16},{"k":"G0","x":144,"y":1.05},{"k":"G0","x":146,"y":0.85},{"k":"G0","x":148,"y":0.7},{"k":"G0","x":150,"y":0.62},{"k":"G0","x":152,"y":0.7},{"k":"G0","x":154,"y":0.75},{"k":"G0","x":156,"y":0.65},{"k":"G0","x":158,"y":0.5},{"k":"G0","x":160,"y":0.55},{"k":"G0","x":162,"y":0.65},{"k":"G0","x":164,"y":0.78},{"k":"G0","x":166,"y":0.72},{"k":"G0","x":168,"y":0.6},{"k":"G0","x":170,"y":0.75},{"k":"G0","x":172,"y":0.85},{"k":"G0","x":174,"y":1.08},{"k":"G0","x":176,"y":0.9},{"k":"G0","x":178,"y":1.12},
{"k":"G1","x":0,"y":0.46},{"k":"G1","x":2,"y":0.3},{"k":"G1","x":4,"y":0.22},{"k":"G1","x":6,"y":0.2},{"k":"G1","x":8,"y":0.22},{"k":"G1","x":10,"y":0.18},{"k":"G1","x":12,"y":0.2},{"k":"G1","x":14,"y":0.25},{"k":"G1","x":16,"y":0.22},{"k":"G1","x":18,"y":0.2},{"k":"G1","x":20,"y":0.18},{"k":"G1","x":22,"y":0.22},{"k":"G1","x":24,"y":0.2},{"k":"G1","x":26,"y":0.25},{"k":"G1","x":28,"y":0.3},{"k":"G1","x":30,"y":0.35},{"k":"G1","x":32,"y":0.3},{"k":"G1","x":34,"y":0.22},{"k":"G1","x":36,"y":0.18},{"k":"G1","x":38,"y":0.15},{"k":"G1","x":40,"y":0.18},{"k":"G1","x":42,"y":0.2},{"k":"G1","x":44,"y":0.22},{"k":"G1","x":46,"y":0.28},{"k":"G1","x":48,"y":0.3},{"k":"G1","x":50,"y":0.25},{"k":"G1","x":52,"y":0.3},{"k":"G1","x":54,"y":0.35},{"k":"G1","x":56,"y":0.28},{"k":"G1","x":58,"y":0.22},{"k":"G1","x":60,"y":0.2},{"k":"G1","x":62,"y":0.18},{"k":"G1","x":64,"y":0.15},{"k":"G1","x":66,"y":0.2},{"k":"G1","x":68,"y":0.18},{"k":"G1","x":70,"y":0.22},{"k":"G1","x":72,"y":0.2},{"k":"G1","x":74,"y":0.18},{"k":"G1","x":76,"y":0.2},{"k":"G1","x":78,"y":0.16},{"k":"G1","x":80,"y":0.14},{"k":"G1","x":82,"y":0.15},{"k":"G1","x":84,"y":0.12},{"k":"G1","x":86,"y":0.15},{"k":"G1","x":88,"y":0.2},{"k":"G1","x":90,"y":0.18},{"k":"G1","x":92,"y":0.2},{"k":"G1","x":94,"y":0.22},{"k":"G1","x":96,"y":0.25},{"k":"G1","x":98,"y":0.2},{"k":"G1","x":100,"y":0.18},{"k":"G1","x":102,"y":0.2},{"k":"G1","x":104,"y":0.22},{"k":"G1","x":106,"y":0.18},{"k":"G1","x":108,"y":0.15},{"k":"G1","x":110,"y":0.17},{"k":"G1","x":112,"y":0.2},{"k":"G1","x":114,"y":0.22},{"k":"G1","x":116,"y":0.25},{"k":"G1","x":118,"y":0.2},{"k":"G1","x":120,"y":0.18},{"k":"G1","x":122,"y":0.22},{"k":"G1","x":124,"y":0.2},{"k":"G1","x":126,"y":0.22},{"k":"G1","x":128,"y":0.25},{"k":"G1","x":130,"y":0.27},{"k":"G1","x":132,"y":0.24},{"k":"G1","x":134,"y":0.27},{"k":"G1","x":136,"y":0.25},{"k":"G1","x":138,"y":0.35},{"k":"G1","x":140,"y":0.45},{"k":"G1","x":142,"y":0.42},{"k":"G1","x":144,"y":0.3},{"k":"G1","x":146,"y":0.25},{"k":"G1","x":148,"y":0.2},{"k":"G1","x":150,"y":0.25},{"k":"G1","x":152,"y":0.3},{"k":"G1","x":154,"y":0.42},{"k":"G1","x":156,"y":0.38},{"k":"G1","x":158,"y":0.3},{"k":"G1","x":160,"y":0.25},{"k":"G1","x":162,"y":0.28},{"k":"G1","x":164,"y":0.3},{"k":"G1","x":166,"y":0.25},{"k":"G1","x":168,"y":0.22},{"k":"G1","x":170,"y":0.3},{"k":"G1","x":172,"y":0.42},{"k":"G1","x":174,"y":0.3},{"k":"G1","x":176,"y":0.5},{"k":"G1","x":178,"y":0.7},
{"k":"G2","x":0,"y":0.96},{"k":"G2","x":2,"y":0.95},{"k":"G2","x":4,"y":0.8},{"k":"G2","x":6,"y":0.7},{"k":"G2","x":8,"y":0.6},{"k":"G2","x":10,"y":0.55},{"k":"G2","x":12,"y":0.58},{"k":"G2","x":14,"y":0.55},{"k":"G2","x":16,"y":0.5},{"k":"G2","x":18,"y":0.48},{"k":"G2","x":20,"y":0.55},{"k":"G2","x":22,"y":0.7},{"k":"G2","x":24,"y":0.82},{"k":"G2","x":26,"y":1.0},{"k":"G2","x":28,"y":1.05},{"k":"G2","x":30,"y":0.98},{"k":"G2","x":32,"y":1.07},{"k":"G2","x":34,"y":0.8},{"k":"G2","x":36,"y":0.65},{"k":"G2","x":38,"y":0.6},{"k":"G2","x":40,"y":0.55},{"k":"G2","x":42,"y":0.65},{"k":"G2","x":44,"y":0.75},{"k":"G2","x":46,"y":0.7},{"k":"G2","x":48,"y":0.72},{"k":"G2","x":50,"y":0.8},{"k":"G2","x":52,"y":0.9},{"k":"G2","x":54,"y":0.95},{"k":"G2","x":56,"y":1.0},{"k":"G2","x":58,"y":0.9},{"k":"G2","x":60,"y":0.8},{"k":"G2","x":62,"y":0.72},{"k":"G2","x":64,"y":0.65},{"k":"G2","x":66,"y":0.58},{"k":"G2","x":68,"y":0.65},{"k":"G2","x":70,"y":0.75},{"k":"G2","x":72,"y":0.9},{"k":"G2","x":74,"y":0.98},{"k":"G2","x":76,"y":0.9},{"k":"G2","x":78,"y":0.8},{"k":"G2","x":80,"y":0.7},{"k":"G2","x":82,"y":0.65},{"k":"G2","x":84,"y":0.6},{"k":"G2","x":86,"y":0.55},{"k":"G2","x":88,"y":0.6},{"k":"G2","x":90,"y":0.5},{"k":"G2","x":92,"y":0.5},{"k":"G2","x":94,"y":0.6},{"k":"G2","x":96,"y":0.75},{"k":"G2","x":98,"y":0.95},{"k":"G2","x":100,"y":1.1},{"k":"G2","x":102,"y":1.25},{"k":"G2","x":103,"y":1.28},{"k":"G2","x":105,"y":1.18},{"k":"G2","x":107,"y":1.05},{"k":"G2","x":109,"y":0.9},{"k":"G2","x":111,"y":0.75},{"k":"G2","x":113,"y":0.65},{"k":"G2","x":115,"y":0.55},{"k":"G2","x":117,"y":0.5},{"k":"G2","x":119,"y":0.45},{"k":"G2","x":121,"y":0.6},{"k":"G2","x":122,"y":0.72},
{"k":"G3","x":0,"y":0.35},{"k":"G3","x":2,"y":0.22},{"k":"G3","x":4,"y":0.18},{"k":"G3","x":6,"y":0.15},{"k":"G3","x":8,"y":0.2},{"k":"G3","x":10,"y":0.18},{"k":"G3","x":12,"y":0.22},{"k":"G3","x":14,"y":0.25},{"k":"G3","x":16,"y":0.2},{"k":"G3","x":18,"y":0.18},{"k":"G3","x":20,"y":0.2},{"k":"G3","x":22,"y":0.18},{"k":"G3","x":24,"y":0.22},{"k":"G3","x":26,"y":0.25},{"k":"G3","x":28,"y":0.28},{"k":"G3","x":30,"y":0.25},{"k":"G3","x":32,"y":0.2},{"k":"G3","x":34,"y":0.18},{"k":"G3","x":36,"y":0.15},{"k":"G3","x":38,"y":0.13},{"k":"G3","x":40,"y":0.15},{"k":"G3","x":42,"y":0.18},{"k":"G3","x":44,"y":0.14},{"k":"G3","x":46,"y":0.16},{"k":"G3","x":48,"y":0.2},{"k":"G3","x":50,"y":0.22},{"k":"G3","x":52,"y":0.25},{"k":"G3","x":54,"y":0.28},{"k":"G3","x":56,"y":0.3},{"k":"G3","x":58,"y":0.25},{"k":"G3","x":60,"y":0.22},{"k":"G3","x":62,"y":0.25},{"k":"G3","x":64,"y":0.3},{"k":"G3","x":66,"y":0.28},{"k":"G3","x":68,"y":0.25},{"k":"G3","x":70,"y":0.3},{"k":"G3","x":72,"y":0.28},{"k":"G3","x":74,"y":0.25},{"k":"G3","x":76,"y":0.22},{"k":"G3","x":78,"y":0.25},{"k":"G3","x":80,"y":0.3},{"k":"G3","x":82,"y":0.35},{"k":"G3","x":84,"y":0.32},{"k":"G3","x":86,"y":0.28},{"k":"G3","x":88,"y":0.22},{"k":"G3","x":90,"y":0.18},{"k":"G3","x":92,"y":0.15},{"k":"G3","x":94,"y":0.12},{"k":"G3","x":96,"y":0.15},{"k":"G3","x":98,"y":0.18},{"k":"G3","x":100,"y":0.22},{"k":"G3","x":102,"y":0.25},{"k":"G3","x":104,"y":0.28},{"k":"G3","x":106,"y":0.25},{"k":"G3","x":108,"y":0.2},{"k":"G3","x":110,"y":0.18},{"k":"G3","x":112,"y":0.15},{"k":"G3","x":114,"y":0.12},{"k":"G3","x":116,"y":0.14},{"k":"G3","x":118,"y":0.18},
{"k":"G4","x":0,"y":0.85},{"k":"G4","x":2,"y":0.75},{"k":"G4","x":4,"y":0.65},{"k":"G4","x":6,"y":0.6},{"k":"G4","x":8,"y":0.55},{"k":"G4","x":10,"y":0.58},{"k":"G4","x":12,"y":0.6},{"k":"G4","x":14,"y":0.55},{"k":"G4","x":16,"y":0.52},{"k":"G4","x":18,"y":0.6},{"k":"G4","x":20,"y":0.65},{"k":"G4","x":22,"y":0.7},{"k":"G4","x":24,"y":0.75},{"k":"G4","x":26,"y":0.85},{"k":"G4","x":28,"y":0.92},{"k":"G4","x":30,"y":0.85},{"k":"G4","x":32,"y":0.78},{"k":"G4","x":34,"y":0.65},{"k":"G4","x":36,"y":0.55},{"k":"G4","x":38,"y":0.52},{"k":"G4","x":40,"y":0.55},{"k":"G4","x":42,"y":0.62},{"k":"G4","x":44,"y":0.68},{"k":"G4","x":46,"y":0.6},{"k":"G4","x":48,"y":0.55},{"k":"G4","x":50,"y":0.65},{"k":"G4","x":52,"y":0.75},{"k":"G4","x":54,"y":0.82},{"k":"G4","x":56,"y":0.88},{"k":"G4","x":58,"y":0.8},{"k":"G4","x":60,"y":0.7},{"k":"G4","x":62,"y":0.65},{"k":"G4","x":64,"y":0.72},{"k":"G4","x":66,"y":0.78},{"k":"G4","x":68,"y":0.8},{"k":"G4","x":70,"y":0.7},{"k":"G4","x":72,"y":0.6},{"k":"G4","x":74,"y":0.55},{"k":"G4","x":76,"y":0.5},{"k":"G4","x":78,"y":0.45},{"k":"G4","x":80,"y":0.5},{"k":"G4","x":82,"y":0.55},{"k":"G4","x":84,"y":0.62},{"k":"G4","x":86,"y":0.7},{"k":"G4","x":88,"y":0.78},{"k":"G4","x":90,"y":0.82},{"k":"G4","x":92,"y":0.85},{"k":"G4","x":94,"y":0.8},{"k":"G4","x":96,"y":0.7},{"k":"G4","x":98,"y":0.6},{"k":"G4","x":100,"y":0.52},{"k":"G4","x":102,"y":0.45},{"k":"G4","x":104,"y":0.55},{"k":"G4","x":106,"y":0.65},{"k":"G4","x":108,"y":0.78},
{"k":"G5","x":0,"y":0.3},{"k":"G5","x":2,"y":0.25},{"k":"G5","x":4,"y":0.2},{"k":"G5","x":6,"y":0.22},{"k":"G5","x":8,"y":0.25},{"k":"G5","x":10,"y":0.3},{"k":"G5","x":12,"y":0.35},{"k":"G5","x":14,"y":0.38},{"k":"G5","x":16,"y":0.4},{"k":"G5","x":18,"y":0.35},{"k":"G5","x":20,"y":0.3},{"k":"G5","x":22,"y":0.25},{"k":"G5","x":24,"y":0.2},{"k":"G5","x":26,"y":0.28},{"k":"G5","x":28,"y":0.32},{"k":"G5","x":30,"y":0.42},{"k":"G5","x":32,"y":0.35},{"k":"G5","x":34,"y":0.25},{"k":"G5","x":36,"y":0.2},{"k":"G5","x":38,"y":0.18},{"k":"G5","x":40,"y":0.15},{"k":"G5","x":42,"y":0.18},{"k":"G5","x":44,"y":0.2},{"k":"G5","x":46,"y":0.25},{"k":"G5","x":48,"y":0.22},{"k":"G5","x":50,"y":0.2},{"k":"G5","x":52,"y":0.25},{"k":"G5","x":54,"y":0.3},{"k":"G5","x":56,"y":0.28},{"k":"G5","x":58,"y":0.35},{"k":"G5","x":60,"y":0.32},{"k":"G5","x":62,"y":0.38},{"k":"G5","x":64,"y":0.4},{"k":"G5","x":66,"y":0.35},{"k":"G5","x":68,"y":0.3},{"k":"G5","x":70,"y":0.25},{"k":"G5","x":72,"y":0.3},{"k":"G5","x":74,"y":0.35},{"k":"G5","x":76,"y":0.3},{"k":"G5","x":78,"y":0.32},{"k":"G5","x":80,"y":0.35},{"k":"G5","x":82,"y":0.38},{"k":"G5","x":84,"y":0.35},{"k":"G5","x":86,"y":0.3},{"k":"G5","x":88,"y":0.25},{"k":"G5","x":90,"y":0.22},{"k":"G5","x":92,"y":0.25},{"k":"G5","x":94,"y":0.22},{"k":"G5","x":96,"y":0.2},{"k":"G5","x":98,"y":0.25},{"k":"G5","x":100,"y":0.22},{"k":"G5","x":102,"y":0.2},{"k":"G5","x":104,"y":0.3},{"k":"G5","x":106,"y":0.5},{"k":"G5","x":108,"y":0.65},
{"k":"H0","x":0,"y":0.57},{"k":"H0","x":2,"y":0.4},{"k":"H0","x":4,"y":0.22},{"k":"H0","x":6,"y":0.15},{"k":"H0","x":8,"y":0.13},{"k":"H0","x":10,"y":0.12},{"k":"H0","x":12,"y":0.15},{"k":"H0","x":14,"y":0.2},{"k":"H0","x":16,"y":0.18},{"k":"H0","x":18,"y":0.12},{"k":"H0","x":20,"y":0.1},{"k":"H0","x":22,"y":0.12},{"k":"H0","x":24,"y":0.15},{"k":"H0","x":26,"y":0.2},{"k":"H0","x":28,"y":0.28},{"k":"H0","x":30,"y":0.22},{"k":"H0","x":32,"y":0.34},{"k":"H0","x":34,"y":0.15},{"k":"H0","x":36,"y":0.12},{"k":"H0","x":38,"y":0.1},{"k":"H0","x":40,"y":0.15},{"k":"H0","x":42,"y":0.2},{"k":"H0","x":44,"y":0.15},{"k":"H0","x":46,"y":0.35},{"k":"H0","x":48,"y":0.18},{"k":"H0","x":50,"y":0.15},{"k":"H0","x":52,"y":0.22},{"k":"H0","x":54,"y":0.25},{"k":"H0","x":56,"y":0.28},{"k":"H0","x":58,"y":0.2},{"k":"H0","x":60,"y":0.25},{"k":"H0","x":62,"y":0.18},{"k":"H0","x":64,"y":0.22},{"k":"H0","x":66,"y":0.15},{"k":"H0","x":68,"y":0.18},{"k":"H0","x":70,"y":0.2},{"k":"H0","x":72,"y":0.22},{"k":"H0","x":74,"y":0.26},{"k":"H0","x":76,"y":0.3},{"k":"H0","x":78,"y":0.22},{"k":"H0","x":80,"y":0.2},{"k":"H0","x":82,"y":0.25},{"k":"H0","x":84,"y":0.3},{"k":"H0","x":86,"y":0.25},{"k":"H0","x":88,"y":0.2},{"k":"H0","x":90,"y":0.18},{"k":"H0","x":92,"y":0.15},{"k":"H0","x":94,"y":0.12},{"k":"H0","x":96,"y":0.15},{"k":"H0","x":98,"y":0.18},{"k":"H0","x":100,"y":0.15},{"k":"H0","x":102,"y":0.12},{"k":"H0","x":104,"y":0.15},{"k":"H0","x":106,"y":0.14},{"k":"H0","x":108,"y":0.12},{"k":"H0","x":110,"y":0.18},{"k":"H0","x":112,"y":0.28},{"k":"H0","x":114,"y":0.4},{"k":"H0","x":116,"y":0.43},{"k":"H0","x":118,"y":0.3},{"k":"H0","x":120,"y":0.22},{"k":"H0","x":122,"y":0.15},{"k":"H0","x":124,"y":0.2},{"k":"H0","x":126,"y":0.25},{"k":"H0","x":128,"y":0.2},{"k":"H0","x":130,"y":0.22},{"k":"H0","x":132,"y":0.18},{"k":"H0","x":134,"y":0.2},{"k":"H0","x":136,"y":0.16},{"k":"H0","x":138,"y":0.2},{"k":"H0","x":140,"y":0.34},{"k":"H0","x":142,"y":0.25},{"k":"H0","x":144,"y":0.28},{"k":"H0","x":146,"y":0.2},{"k":"H0","x":148,"y":0.22},{"k":"H0","x":150,"y":0.3},{"k":"H0","x":152,"y":0.4},{"k":"H0","x":154,"y":0.44},{"k":"H0","x":156,"y":0.4},{"k":"H0","x":158,"y":0.3},{"k":"H0","x":160,"y":0.25},{"k":"H0","x":162,"y":0.2},{"k":"H0","x":164,"y":0.25},{"k":"H0","x":166,"y":0.22},{"k":"H0","x":168,"y":0.18},{"k":"H0","x":170,"y":0.28},{"k":"H0","x":172,"y":0.4},{"k":"H0","x":174,"y":0.38},{"k":"H0","x":176,"y":0.45},{"k":"H0","x":177,"y":0.67},
{"k":"H1","x":0,"y":0.6},{"k":"H1","x":2,"y":0.35},{"k":"H1","x":4,"y":0.2},{"k":"H1","x":6,"y":0.15},{"k":"H1","x":8,"y":0.12},{"k":"H1","x":10,"y":0.1},{"k":"H1","x":12,"y":0.08},{"k":"H1","x":14,"y":0.12},{"k":"H1","x":16,"y":0.15},{"k":"H1","x":18,"y":0.18},{"k":"H1","x":20,"y":0.15},{"k":"H1","x":22,"y":0.12},{"k":"H1","x":24,"y":0.18},{"k":"H1","x":26,"y":0.22},{"k":"H1","x":28,"y":0.25},{"k":"H1","x":30,"y":0.2},{"k":"H1","x":32,"y":0.18},{"k":"H1","x":34,"y":0.15},{"k":"H1","x":36,"y":0.12},{"k":"H1","x":38,"y":0.15},{"k":"H1","x":40,"y":0.2},{"k":"H1","x":42,"y":0.25},{"k":"H1","x":44,"y":0.2},{"k":"H1","x":46,"y":0.18},{"k":"H1","x":48,"y":0.22},{"k":"H1","x":50,"y":0.2},{"k":"H1","x":52,"y":0.18},{"k":"H1","x":54,"y":0.22},{"k":"H1","x":56,"y":0.25},{"k":"H1","x":58,"y":0.2},{"k":"H1","x":60,"y":0.18},{"k":"H1","x":62,"y":0.15},{"k":"H1","x":64,"y":0.2},{"k":"H1","x":66,"y":0.25},{"k":"H1","x":68,"y":0.3},{"k":"H1","x":70,"y":0.38},{"k":"H1","x":72,"y":0.25},{"k":"H1","x":74,"y":0.18},{"k":"H1","x":76,"y":0.12},{"k":"H1","x":78,"y":0.1},{"k":"H1","x":80,"y":0.15},{"k":"H1","x":82,"y":0.2},{"k":"H1","x":84,"y":0.15},{"k":"H1","x":86,"y":0.12},{"k":"H1","x":88,"y":0.15},{"k":"H1","x":90,"y":0.18},{"k":"H1","x":92,"y":0.15},{"k":"H1","x":94,"y":0.12},{"k":"H1","x":96,"y":0.1},{"k":"H1","x":98,"y":0.12},{"k":"H1","x":100,"y":0.15},{"k":"H1","x":102,"y":0.12},{"k":"H1","x":104,"y":0.1},{"k":"H1","x":106,"y":0.08},{"k":"H1","x":108,"y":0.12},{"k":"H1","x":110,"y":0.15},{"k":"H1","x":112,"y":0.2},{"k":"H1","x":114,"y":0.25},{"k":"H1","x":116,"y":0.3},{"k":"H1","x":118,"y":0.25},{"k":"H1","x":120,"y":0.2},{"k":"H1","x":122,"y":0.15},{"k":"H1","x":124,"y":0.2},{"k":"H1","x":126,"y":0.15},{"k":"H1","x":128,"y":0.15},{"k":"H1","x":130,"y":0.18},{"k":"H1","x":132,"y":0.15},{"k":"H1","x":134,"y":0.12},{"k":"H1","x":136,"y":0.1},{"k":"H1","x":138,"y":0.13},{"k":"H1","x":140,"y":0.2},{"k":"H1","x":142,"y":0.18},{"k":"H1","x":144,"y":0.15},{"k":"H1","x":146,"y":0.12},{"k":"H1","x":148,"y":0.14},{"k":"H1","x":150,"y":0.22},{"k":"H1","x":152,"y":0.35},{"k":"H1","x":154,"y":0.38},{"k":"H1","x":156,"y":0.3},{"k":"H1","x":158,"y":0.25},{"k":"H1","x":160,"y":0.22},{"k":"H1","x":162,"y":0.18},{"k":"H1","x":164,"y":0.15},{"k":"H1","x":166,"y":0.22},{"k":"H1","x":168,"y":0.15},{"k":"H1","x":170,"y":0.2},{"k":"H1","x":172,"y":0.3},{"k":"H1","x":174,"y":0.28},{"k":"H1","x":176,"y":0.4},{"k":"H1","x":177,"y":0.57},
{"k":"H2","x":0,"y":0.45},{"k":"H2","x":2,"y":0.3},{"k":"H2","x":4,"y":0.2},{"k":"H2","x":6,"y":0.22},{"k":"H2","x":8,"y":0.25},{"k":"H2","x":10,"y":0.28},{"k":"H2","x":12,"y":0.35},{"k":"H2","x":14,"y":0.41},{"k":"H2","x":16,"y":0.35},{"k":"H2","x":18,"y":0.2},{"k":"H2","x":20,"y":0.12},{"k":"H2","x":22,"y":0.15},{"k":"H2","x":24,"y":0.2},{"k":"H2","x":26,"y":0.18},{"k":"H2","x":28,"y":0.15},{"k":"H2","x":30,"y":0.2},{"k":"H2","x":32,"y":0.25},{"k":"H2","x":34,"y":0.18},{"k":"H2","x":36,"y":0.15},{"k":"H2","x":38,"y":0.12},{"k":"H2","x":40,"y":0.18},{"k":"H2","x":42,"y":0.22},{"k":"H2","x":44,"y":0.2},{"k":"H2","x":46,"y":0.15},{"k":"H2","x":48,"y":0.2},{"k":"H2","x":50,"y":0.25},{"k":"H2","x":52,"y":0.22},{"k":"H2","x":54,"y":0.18},{"k":"H2","x":56,"y":0.2},{"k":"H2","x":58,"y":0.25},{"k":"H2","x":60,"y":0.22},{"k":"H2","x":62,"y":0.2},{"k":"H2","x":64,"y":0.25},{"k":"H2","x":66,"y":0.22},{"k":"H2","x":68,"y":0.18},{"k":"H2","x":70,"y":0.2},{"k":"H2","x":72,"y":0.25},{"k":"H2","x":74,"y":0.28},{"k":"H2","x":76,"y":0.3},{"k":"H2","x":78,"y":0.25},{"k":"H2","x":80,"y":0.22},{"k":"H2","x":82,"y":0.2},{"k":"H2","x":84,"y":0.22},{"k":"H2","x":86,"y":0.3},{"k":"H2","x":88,"y":0.25},{"k":"H2","x":90,"y":0.2},{"k":"H2","x":92,"y":0.18},{"k":"H2","x":94,"y":0.15},{"k":"H2","x":96,"y":0.18},{"k":"H2","x":98,"y":0.15},{"k":"H2","x":100,"y":0.12},{"k":"H2","x":102,"y":0.14},{"k":"H2","x":104,"y":0.16},{"k":"H2","x":106,"y":0.2},{"k":"H2","x":108,"y":0.15},{"k":"H2","x":110,"y":0.12},{"k":"H2","x":112,"y":0.15},{"k":"H2","x":114,"y":0.18},{"k":"H2","x":116,"y":0.15},{"k":"H2","x":118,"y":0.12},{"k":"H2","x":120,"y":0.15},{"k":"H2","x":122,"y":0.2},{"k":"H2","x":124,"y":0.3},{"k":"H2","x":125,"y":0.46},
{"k":"H3","x":0,"y":0.35},{"k":"H3","x":2,"y":0.25},{"k":"H3","x":4,"y":0.15},{"k":"H3","x":6,"y":0.14},{"k":"H3","x":8,"y":0.16},{"k":"H3","x":10,"y":0.2},{"k":"H3","x":12,"y":0.25},{"k":"H3","x":14,"y":0.3},{"k":"H3","x":16,"y":0.25},{"k":"H3","x":18,"y":0.2},{"k":"H3","x":20,"y":0.15},{"k":"H3","x":22,"y":0.12},{"k":"H3","x":24,"y":0.14},{"k":"H3","x":26,"y":0.18},{"k":"H3","x":28,"y":0.2},{"k":"H3","x":30,"y":0.15},{"k":"H3","x":32,"y":0.12},{"k":"H3","x":34,"y":0.1},{"k":"H3","x":36,"y":0.08},{"k":"H3","x":38,"y":0.12},{"k":"H3","x":40,"y":0.15},{"k":"H3","x":42,"y":0.12},{"k":"H3","x":44,"y":0.1},{"k":"H3","x":46,"y":0.12},{"k":"H3","x":48,"y":0.1},{"k":"H3","x":50,"y":0.08},{"k":"H3","x":52,"y":0.12},{"k":"H3","x":54,"y":0.1},{"k":"H3","x":56,"y":0.12},{"k":"H3","x":58,"y":0.14},{"k":"H3","x":60,"y":0.12},{"k":"H3","x":62,"y":0.15},{"k":"H3","x":64,"y":0.13},{"k":"H3","x":66,"y":0.15},{"k":"H3","x":68,"y":0.12},{"k":"H3","x":70,"y":0.14},{"k":"H3","x":72,"y":0.18},{"k":"H3","x":74,"y":0.15},{"k":"H3","x":76,"y":0.12},{"k":"H3","x":78,"y":0.15},{"k":"H3","x":80,"y":0.18},{"k":"H3","x":82,"y":0.2},{"k":"H3","x":84,"y":0.25},{"k":"H3","x":86,"y":0.4},{"k":"H3","x":88,"y":0.22},{"k":"H3","x":90,"y":0.15},{"k":"H3","x":92,"y":0.12},{"k":"H3","x":94,"y":0.1},{"k":"H3","x":96,"y":0.12},{"k":"H3","x":98,"y":0.1},{"k":"H3","x":100,"y":0.08},{"k":"H3","x":102,"y":0.1},{"k":"H3","x":104,"y":0.12},{"k":"H3","x":106,"y":0.15},{"k":"H3","x":108,"y":0.12},{"k":"H3","x":110,"y":0.1},{"k":"H3","x":112,"y":0.12},{"k":"H3","x":114,"y":0.1},{"k":"H3","x":116,"y":0.12},{"k":"H3","x":118,"y":0.14},{"k":"H3","x":120,"y":0.15},{"k":"H3","x":122,"y":0.2},{"k":"H3","x":124,"y":0.3},{"k":"H3","x":125,"y":0.42},
{"k":"H4","x":0,"y":0.2},{"k":"H4","x":2,"y":0.18},{"k":"H4","x":4,"y":0.14},{"k":"H4","x":6,"y":0.15},{"k":"H4","x":8,"y":0.18},{"k":"H4","x":10,"y":0.2},{"k":"H4","x":12,"y":0.22},{"k":"H4","x":14,"y":0.25},{"k":"H4","x":16,"y":0.2},{"k":"H4","x":18,"y":0.15},{"k":"H4","x":20,"y":0.12},{"k":"H4","x":22,"y":0.18},{"k":"H4","x":24,"y":0.27},{"k":"H4","x":26,"y":0.2},{"k":"H4","x":28,"y":0.15},{"k":"H4","x":30,"y":0.18},{"k":"H4","x":32,"y":0.22},{"k":"H4","x":34,"y":0.15},{"k":"H4","x":36,"y":0.12},{"k":"H4","x":38,"y":0.2},{"k":"H4","x":40,"y":0.28},{"k":"H4","x":42,"y":0.3},{"k":"H4","x":44,"y":0.2},{"k":"H4","x":46,"y":0.12},{"k":"H4","x":48,"y":0.15},{"k":"H4","x":50,"y":0.2},{"k":"H4","x":52,"y":0.18},{"k":"H4","x":54,"y":0.15},{"k":"H4","x":56,"y":0.2},{"k":"H4","x":58,"y":0.22},{"k":"H4","x":60,"y":0.27},{"k":"H4","x":62,"y":0.2},{"k":"H4","x":64,"y":0.18},{"k":"H4","x":66,"y":0.15},{"k":"H4","x":68,"y":0.2},{"k":"H4","x":70,"y":0.22},{"k":"H4","x":72,"y":0.2},{"k":"H4","x":74,"y":0.18},{"k":"H4","x":76,"y":0.2},{"k":"H4","x":78,"y":0.15},{"k":"H4","x":80,"y":0.18},{"k":"H4","x":82,"y":0.2},{"k":"H4","x":84,"y":0.15},{"k":"H4","x":86,"y":0.12},{"k":"H4","x":88,"y":0.15},{"k":"H4","x":90,"y":0.18},{"k":"H4","x":92,"y":0.2},{"k":"H4","x":94,"y":0.15},{"k":"H4","x":96,"y":0.12},{"k":"H4","x":98,"y":0.15},{"k":"H4","x":100,"y":0.2},{"k":"H4","x":102,"y":0.18},{"k":"H4","x":104,"y":0.22},{"k":"H4","x":106,"y":0.3},{"k":"H4","x":108,"y":0.34},
{"k":"H5","x":0,"y":0.38},{"k":"H5","x":2,"y":0.25},{"k":"H5","x":4,"y":0.18},{"k":"H5","x":6,"y":0.14},{"k":"H5","x":8,"y":0.12},{"k":"H5","x":10,"y":0.15},{"k":"H5","x":12,"y":0.18},{"k":"H5","x":14,"y":0.2},{"k":"H5","x":16,"y":0.15},{"k":"H5","x":18,"y":0.12},{"k":"H5","x":20,"y":0.15},{"k":"H5","x":22,"y":0.2},{"k":"H5","x":24,"y":0.18},{"k":"H5","x":26,"y":0.22},{"k":"H5","x":28,"y":0.2},{"k":"H5","x":30,"y":0.15},{"k":"H5","x":32,"y":0.18},{"k":"H5","x":34,"y":0.22},{"k":"H5","x":36,"y":0.25},{"k":"H5","x":38,"y":0.28},{"k":"H5","x":40,"y":0.3},{"k":"H5","x":42,"y":0.25},{"k":"H5","x":44,"y":0.28},{"k":"H5","x":46,"y":0.2},{"k":"H5","x":48,"y":0.15},{"k":"H5","x":50,"y":0.18},{"k":"H5","x":52,"y":0.22},{"k":"H5","x":54,"y":0.25},{"k":"H5","x":56,"y":0.2},{"k":"H5","x":58,"y":0.18},{"k":"H5","x":60,"y":0.22},{"k":"H5","x":62,"y":0.25},{"k":"H5","x":64,"y":0.2},{"k":"H5","x":66,"y":0.18},{"k":"H5","x":68,"y":0.15},{"k":"H5","x":70,"y":0.2},{"k":"H5","x":72,"y":0.22},{"k":"H5","x":74,"y":0.18},{"k":"H5","x":76,"y":0.15},{"k":"H5","x":78,"y":0.2},{"k":"H5","x":80,"y":0.25},{"k":"H5","x":82,"y":0.2},{"k":"H5","x":84,"y":0.15},{"k":"H5","x":86,"y":0.12},{"k":"H5","x":88,"y":0.15},{"k":"H5","x":90,"y":0.2},{"k":"H5","x":92,"y":0.22},{"k":"H5","x":94,"y":0.18},{"k":"H5","x":96,"y":0.15},{"k":"H5","x":98,"y":0.2},{"k":"H5","x":100,"y":0.25},{"k":"H5","x":102,"y":0.2},{"k":"H5","x":104,"y":0.15},{"k":"H5","x":106,"y":0.1},{"k":"H5","x":108,"y":0.12}
]
},
"resolve":{"scale":{"color":"independent","shape":"independent"}},
"spacing":23,
"vconcat":[
{"resolve":{"scale":{"color":"independent","shape":"independent"}},"spacing":26,"hconcat":[
{"width":224,"height":150,"resolve":{"axis":{"x":"independent"}},"layer":[
{"data":{"name":"rms"},"transform":[{"filter":{"field":"k","oneOf":["A0","A1","A2","A3","A4","A5"]}},{"lookup":"k","from":{"data":{"name":"names"},"key":"k","fields":["n"]}}],
"mark":{"type":"line","strokeWidth":1.3},
"encoding":{
"x":{"field":"x","type":"quantitative","scale":{"domain":[0,225],"nice":false},"axis":{"values":[0,25,50,75,100,125,150,175,200,225],"title":"Residues"}},
"y":{"field":"y","type":"quantitative","scale":{"domain":[0,1.25],"nice":false},"axis":{"values":[0,0.25,0.5,0.75,1,1.25],"format":".2f","title":"RMS fluctuation (nm)","titleFontSize":12.5}},
"color":{"field":"n","type":"nominal","scale":{"domain":["D9-Eculizumab","D9-mut-Eculizumab","Eculizumab-Hc","mut-Eculizumab-Hc","Eculizumab-Lc","mut-Eculizumab-Lc"],"range":["#c0392b","#3a3590","#f0472e","#2eb84e","#a83058","#c8304a"]},"legend":{"orient":"none","legendX":229,"legendY":18.5,"title":null}}}},
{"data":{"values":[{"t":"A"}]},"mark":{"type":"point","opacity":0},"encoding":{
"x":{"datum":0,"type":"quantitative","scale":{"domain":[0,225],"nice":false},"axis":{"orient":"top","title":"D9 decapping enzyme","labels":false,"ticks":false,"domain":false,"titlePadding":15,"titleFontSize":11.5}},
"shape":{"field":"t","type":"nominal","legend":{"orient":"none","legendX":-40,"legendY":-59,"title":null,"strokeColor":"black","padding":3.5,"labelFontSize":17,"labelFontWeight":"bold","labelColor":"black","labelOffset":-13,"symbolSize":0,"symbolOpacity":0,"rowPadding":0}}}}
]},
{"width":224,"height":150,"resolve":{"axis":{"x":"independent"}},"layer":[
{"data":{"name":"rms"},"transform":[{"filter":{"field":"k","oneOf":["B0","B1","B2","B3","B4","B5"]}},{"lookup":"k","from":{"data":{"name":"names"},"key":"k","fields":["n"]}}],
"mark":{"type":"line","strokeWidth":1.3},
"encoding":{
"x":{"field":"x","type":"quantitative","scale":{"domain":[0,225],"nice":false},"axis":{"values":[0,25,50,75,100,125,150,175,200,225],"title":"Residues"}},
"y":{"field":"y","type":"quantitative","scale":{"domain":[0,1.25],"nice":false},"axis":{"values":[0,0.25,0.5,0.75,1,1.25],"format":".2f","title":"RMS fluctuation (nm)","titleFontSize":12.5}},
"color":{"field":"n","type":"nominal","scale":{"domain":["D9-Vofatamab","D9-mut-Vofatamab","Vofatamab-Hc","mut-Vofatamab-Hc","Vofatamab-Lc","mut-Vofatamab-Lc"],"range":["#f03c1e","#2a9a48","#4a3aa0","#c82850","#f06060","#4cc070"]},"legend":{"orient":"none","legendX":229,"legendY":15.5,"title":null}}}},
{"data":{"values":[{"t":"B"}]},"mark":{"type":"point","opacity":0},"encoding":{
"x":{"datum":0,"type":"quantitative","scale":{"domain":[0,225],"nice":false},"axis":{"orient":"top","title":"D9 decapping enzyme","labels":false,"ticks":false,"domain":false,"titlePadding":15,"titleFontSize":11.5}},
"shape":{"field":"t","type":"nominal","legend":{"orient":"none","legendX":-53,"legendY":-59,"title":null,"strokeColor":"black","padding":3.5,"labelFontSize":17,"labelFontWeight":"bold","labelColor":"black","labelOffset":-13,"symbolSize":0,"symbolOpacity":0,"rowPadding":0}}}}
]}
]},
{"resolve":{"scale":{"color":"independent","shape":"independent"}},"spacing":35,"vconcat":[
{"resolve":{"scale":{"color":"independent","shape":"independent"}},"spacing":8,"hconcat":[
{"width":224,"height":149,"resolve":{"axis":{"x":"independent"}},"layer":[
{"data":{"name":"rms"},"transform":[{"filter":{"field":"k","oneOf":["C0","C1","C2","C3","C4","C5"]}},{"lookup":"k","from":{"data":{"name":"names"},"key":"k","fields":["n"]}}],
"mark":{"type":"line","strokeWidth":1.3},
"encoding":{
"x":{"field":"x","type":"quantitative","scale":{"domain":[0,350],"nice":false},"axis":{"values":[0,50,100,150,200,250,300,350],"title":"Residues"}},
"y":{"field":"y","type":"quantitative","scale":{"domain":[0,1.5],"nice":false},"axis":{"values":[0,0.25,0.5,0.75,1,1.25,1.5],"format":".2f","title":"RMS fluctuation (nm)","titleFontSize":13.5}},
"color":{"field":"n","type":"nominal","scale":{"domain":["Mtase-Eculizumab","Mtase-mut-Eculizumab","Eculizumab-Hc","mut-Eculizumab-Hc","Eculizumab-Lc","mut-Eculizumab-Lc"],"range":["#b03a30","#22aa44","#2c2a8c","#f08888","#d02838","#b8a458"]},"legend":{"orient":"none","legendX":229,"legendY":25.5,"title":null}}}},
{"data":{"values":[{"t":"C"}]},"mark":{"type":"point","opacity":0},"encoding":{
"x":{"datum":0,"type":"quantitative","scale":{"domain":[0,350],"nice":false},"axis":{"orient":"top","title":"Methyltransferase","labels":false,"ticks":false,"domain":false,"titlePadding":16,"titleFontSize":11.5}},
"shape":{"field":"t","type":"nominal","legend":{"orient":"none","legendX":-35,"legendY":-41,"title":null,"strokeColor":"black","padding":3.5,"labelFontSize":18,"labelFontWeight":"normal","labelColor":"black","labelOffset":-13,"symbolSize":0,"symbolOpacity":0,"rowPadding":0}}}}
]},
{"width":224,"height":149,"resolve":{"axis":{"x":"independent"}},"layer":[
{"data":{"name":"rms"},"transform":[{"filter":{"field":"k","oneOf":["D0","D1","D2","D3","D4","D5"]}},{"lookup":"k","from":{"data":{"name":"names"},"key":"k","fields":["n"]}}],
"mark":{"type":"line","strokeWidth":1.3},
"encoding":{
"x":{"field":"x","type":"quantitative","scale":{"domain":[0,350],"nice":false},"axis":{"values":[0,50,100,150,200,250,300,350],"title":"Residues"}},
"y":{"field":"y","type":"quantitative","scale":{"domain":[0,0.72],"nice":false},"axis":{"values":[0,0.12,0.24,0.36,0.48,0.6,0.72],"format":".2f","title":"RMS fluctuation (nm)","titleFontSize":13.5}},
"color":{"field":"n","type":"nominal","scale":{"domain":["Mtase-Vofatamab","Mtase-mut-Vofatamab","Vofatamab-Hc","mut-Vofatamab-Hc","Vofatamab-Lc","mut-Vofatamab-Lc"],"range":["#f03a22","#2aa050","#2a22b0","#f07878","#2a7a40","#2a2a55"]},"legend":{"orient":"none","legendX":229,"legendY":19.5,"title":null}}}},
{"data":{"values":[{"t":"D"}]},"mark":{"type":"point","opacity":0},"encoding":{
"x":{"datum":0,"type":"quantitative","scale":{"domain":[0,350],"nice":false},"axis":{"orient":"top","title":"Methyltransferase","labels":false,"ticks":false,"domain":false,"titlePadding":16,"titleFontSize":11.5}},
"shape":{"field":"t","type":"nominal","legend":{"orient":"none","legendX":-47,"legendY":-37,"title":null,"strokeColor":"black","padding":3.5,"labelFontSize":18,"labelFontWeight":"normal","labelColor":"black","labelOffset":-13,"symbolSize":0,"symbolOpacity":0,"rowPadding":0}}}}
]}
]},
{"resolve":{"scale":{"color":"independent","shape":"independent"}},"spacing":56,"vconcat":[
{"resolve":{"scale":{"color":"independent","shape":"independent"}},"spacing":14,"hconcat":[
{"width":224,"height":150,"resolve":{"axis":{"x":"independent"}},"layer":[
{"data":{"name":"rms"},"transform":[{"filter":{"field":"k","oneOf":["E0","E1","E2","E3","E4","E5"]}},{"lookup":"k","from":{"data":{"name":"names"},"key":"k","fields":["n"]}}],
"mark":{"type":"line","strokeWidth":1.3},
"encoding":{
"x":{"field":"x","type":"quantitative","scale":{"domain":[0,175],"nice":false},"axis":{"values":[0,25,50,75,100,125,150,175],"title":"Residues"}},
"y":{"field":"y","type":"quantitative","scale":{"domain":[0,1.5],"nice":false},"axis":{"values":[0,0.25,0.5,0.75,1,1.25,1.5],"format":".2f","title":"RMS fluctuation (nm)","titleFontSize":12.5}},
"color":{"field":"n","type":"nominal","scale":{"domain":["RPO-Eculizumab","RPO-mut-Eculizumab","Eculizumab-Hc","mut-Eculizumab-Hc","Eculizumab-Lc","mut-Eculizumab-Lc"],"range":["#f03a30","#2e7d50","#3a3090","#8a2a80","#f06868","#1e5530"]},"legend":{"orient":"none","legendX":229,"legendY":13.5,"title":null}}}},
{"data":{"values":[{"t":"E"}]},"mark":{"type":"point","opacity":0},"encoding":{
"x":{"datum":0,"type":"quantitative","scale":{"domain":[0,175],"nice":false},"axis":{"orient":"top","title":"RNA polymerase","labels":false,"ticks":false,"domain":false,"titlePadding":15,"titleFontSize":11.5}},
"shape":{"field":"t","type":"nominal","legend":{"orient":"none","legendX":-46,"legendY":-45,"title":null,"strokeColor":"black","padding":3.5,"labelFontSize":18,"labelFontWeight":"normal","labelColor":"black","labelOffset":-13,"symbolSize":0,"symbolOpacity":0,"rowPadding":0}}}}
]},
{"width":224,"height":150,"resolve":{"axis":{"x":"independent"}},"layer":[
{"data":{"name":"rms"},"transform":[{"filter":{"field":"k","oneOf":["F0","F1","F2","F3","F4","F5"]}},{"lookup":"k","from":{"data":{"name":"names"},"key":"k","fields":["n"]}}],
"mark":{"type":"line","strokeWidth":1.3},
"encoding":{
"x":{"field":"x","type":"quantitative","scale":{"domain":[0,175],"nice":false},"axis":{"values":[0,25,50,75,100,125,150,175],"title":"Residues"}},
"y":{"field":"y","type":"quantitative","scale":{"domain":[0,1.25],"nice":false},"axis":{"values":[0,0.25,0.5,0.75,1,1.25],"format":".2f","title":"RMS fluctuation (nm)","titleFontSize":12.5}},
"color":{"field":"n","type":"nominal","scale":{"domain":["RPO-Vofatamab","RPO-mut-Vofatamab","Vofatamab-Hc","mut-Vofatamab-Hc","Vofatamab-Lc","mut-Vofatamab-Lc"],"range":["#a83222","#444444","#f08a4a","#30288a","#33c044","#d02040"]},"legend":{"orient":"none","legendX":231,"legendY":18.5,"title":null}}}},
{"data":{"values":[{"t":"F"}]},"mark":{"type":"point","opacity":0},"encoding":{
"x":{"datum":0,"type":"quantitative","scale":{"domain":[0,175],"nice":false},"axis":{"orient":"top","title":"RNA polymerase","labels":false,"ticks":false,"domain":false,"titlePadding":15,"titleFontSize":11.5}},
"shape":{"field":"t","type":"nominal","legend":{"orient":"none","legendX":-49,"legendY":-45,"title":null,"strokeColor":"black","padding":3.5,"labelFontSize":18,"labelFontWeight":"normal","labelColor":"black","labelOffset":-13,"symbolSize":0,"symbolOpacity":0,"rowPadding":0}}}}
]}
]},
{"resolve":{"scale":{"color":"independent","shape":"independent"}},"spacing":22,"hconcat":[
{"width":224,"height":148,"resolve":{"axis":{"x":"independent"}},"layer":[
{"data":{"name":"rms"},"transform":[{"filter":{"field":"k","oneOf":["G0","G1","G2","G3","G4","G5"]}},{"lookup":"k","from":{"data":{"name":"names"},"key":"k","fields":["n"]}}],
"mark":{"type":"line","strokeWidth":1.3},
"encoding":{
"x":{"field":"x","type":"quantitative","scale":{"domain":[0,200],"nice":false},"axis":{"values":[0,25,50,75,100,125,150,175,200],"title":"Residues"}},
"y":{"field":"y","type":"quantitative","scale":{"domain":[0,1.4],"nice":false},"axis":{"values":[0,0.2,0.4,0.6,0.8,1,1.2,1.4],"format":".1f","title":"RMS fluctuation (nm)","titleFontSize":13.5}},
"color":{"field":"n","type":"nominal","scale":{"domain":["TK-Eculizumab","TK-mut-Eculizumab","Eculizumab-Hc","mut-Eculizumab-Hc","Eculizumab-Lc","mut-Eculizumab-Lc"],"range":["#f03a30","#2a6a32","#5048a8","#f04848","#7a2a58","#555560"]},"legend":{"orient":"none","legendX":230,"legendY":26.5,"title":null}}}},
{"data":{"values":[{"t":"G"}]},"mark":{"type":"point","opacity":0},"encoding":{
"x":{"datum":0,"type":"quantitative","scale":{"domain":[0,200],"nice":false},"axis":{"orient":"top","title":"Thymidine kinase","labels":false,"ticks":false,"domain":false,"titlePadding":16,"titleFontSize":11.5}},
"shape":{"field":"t","type":"nominal","legend":{"orient":"none","legendX":-39,"legendY":-36,"title":null,"strokeColor":"black","padding":3.5,"labelFontSize":18,"labelFontWeight":"normal","labelColor":"black","labelOffset":-13,"symbolSize":0,"symbolOpacity":0,"rowPadding":0}}}}
]},
{"width":224,"height":150,"resolve":{"axis":{"x":"independent"}},"layer":[
{"data":{"name":"rms"},"transform":[{"filter":{"field":"k","oneOf":["H0","H1","H2","H3","H4","H5"]}},{"lookup":"k","from":{"data":{"name":"names"},"key":"k","fields":["n"]}}],
"mark":{"type":"line","strokeWidth":1.3},
"encoding":{
"x":{"field":"x","type":"quantitative","scale":{"domain":[0,200],"nice":false},"axis":{"values":[0,25,50,75,100,125,150,175,200],"title":"Residues"}},
"y":{"field":"y","type":"quantitative","scale":{"domain":[0,0.72],"nice":false},"axis":{"values":[0,0.18,0.36,0.54,0.72],"format":".2f","title":"RMS fluctuation (nm)","titleFontSize":13.5}},
"color":{"field":"n","type":"nominal","scale":{"domain":["TK-Vofatamab","TK-mut-Vofatamab","Vofatamab-Hc","mut-Vofatamab-Hc","Vofatamab-Lc","mut-Vofatamab-Lc"],"range":["#f03a22","#33c055","#f08a8a","#2a2a90","#303030","#2a8a40"]},"legend":{"orient":"none","legendX":229,"legendY":11.5,"title":null}}}},
{"data":{"values":[{"t":"H"}]},"mark":{"type":"point","opacity":0},"encoding":{
"x":{"datum":0,"type":"quantitative","scale":{"domain":[0,200],"nice":false},"axis":{"orient":"top","title":"Thymidine kinase","labels":false,"ticks":false,"domain":false,"titlePadding":16,"titleFontSize":11.5}},
"shape":{"field":"t","type":"nominal","legend":{"orient":"none","legendX":-57,"legendY":-31,"title":null,"strokeColor":"black","padding":3.5,"labelFontSize":18,"labelFontWeight":"normal","labelColor":"black","labelOffset":-13,"symbolSize":0,"symbolOpacity":0,"rowPadding":0}}}}
]}
]}
]}
]}
],
"config":{
"font":"Liberation Serif",
"view":{"stroke":"black","strokeWidth":1.5},
"axis":{"domainColor":"black","domainWidth":1.5,"tickColor":"black","tickWidth":1.5,"tickSize":5,"grid":false,"labelFont":"Liberation Serif","labelFontSize":11,"labelFontWeight":"bold","labelColor":"black","labelFlush":false,"labelOverlap":false,"titleFont":"Liberation Serif","titleFontSize":12,"titleFontWeight":"bold","titleColor":"black"},
"axisX":{"labelPadding":4,"titlePadding":4},
"axisY":{"labelPadding":2,"titlePadding":4},
"legend":{"labelFont":"Liberation Serif","labelFontSize":11,"labelColor":"#222222","symbolType":"stroke","symbolSize":256,"symbolStrokeWidth":1.5,"labelOffset":6,"rowPadding":4.6,"padding":0,"strokeWidth":2},
"text":{"font":"Liberation Serif","color":"black"}
}
}
